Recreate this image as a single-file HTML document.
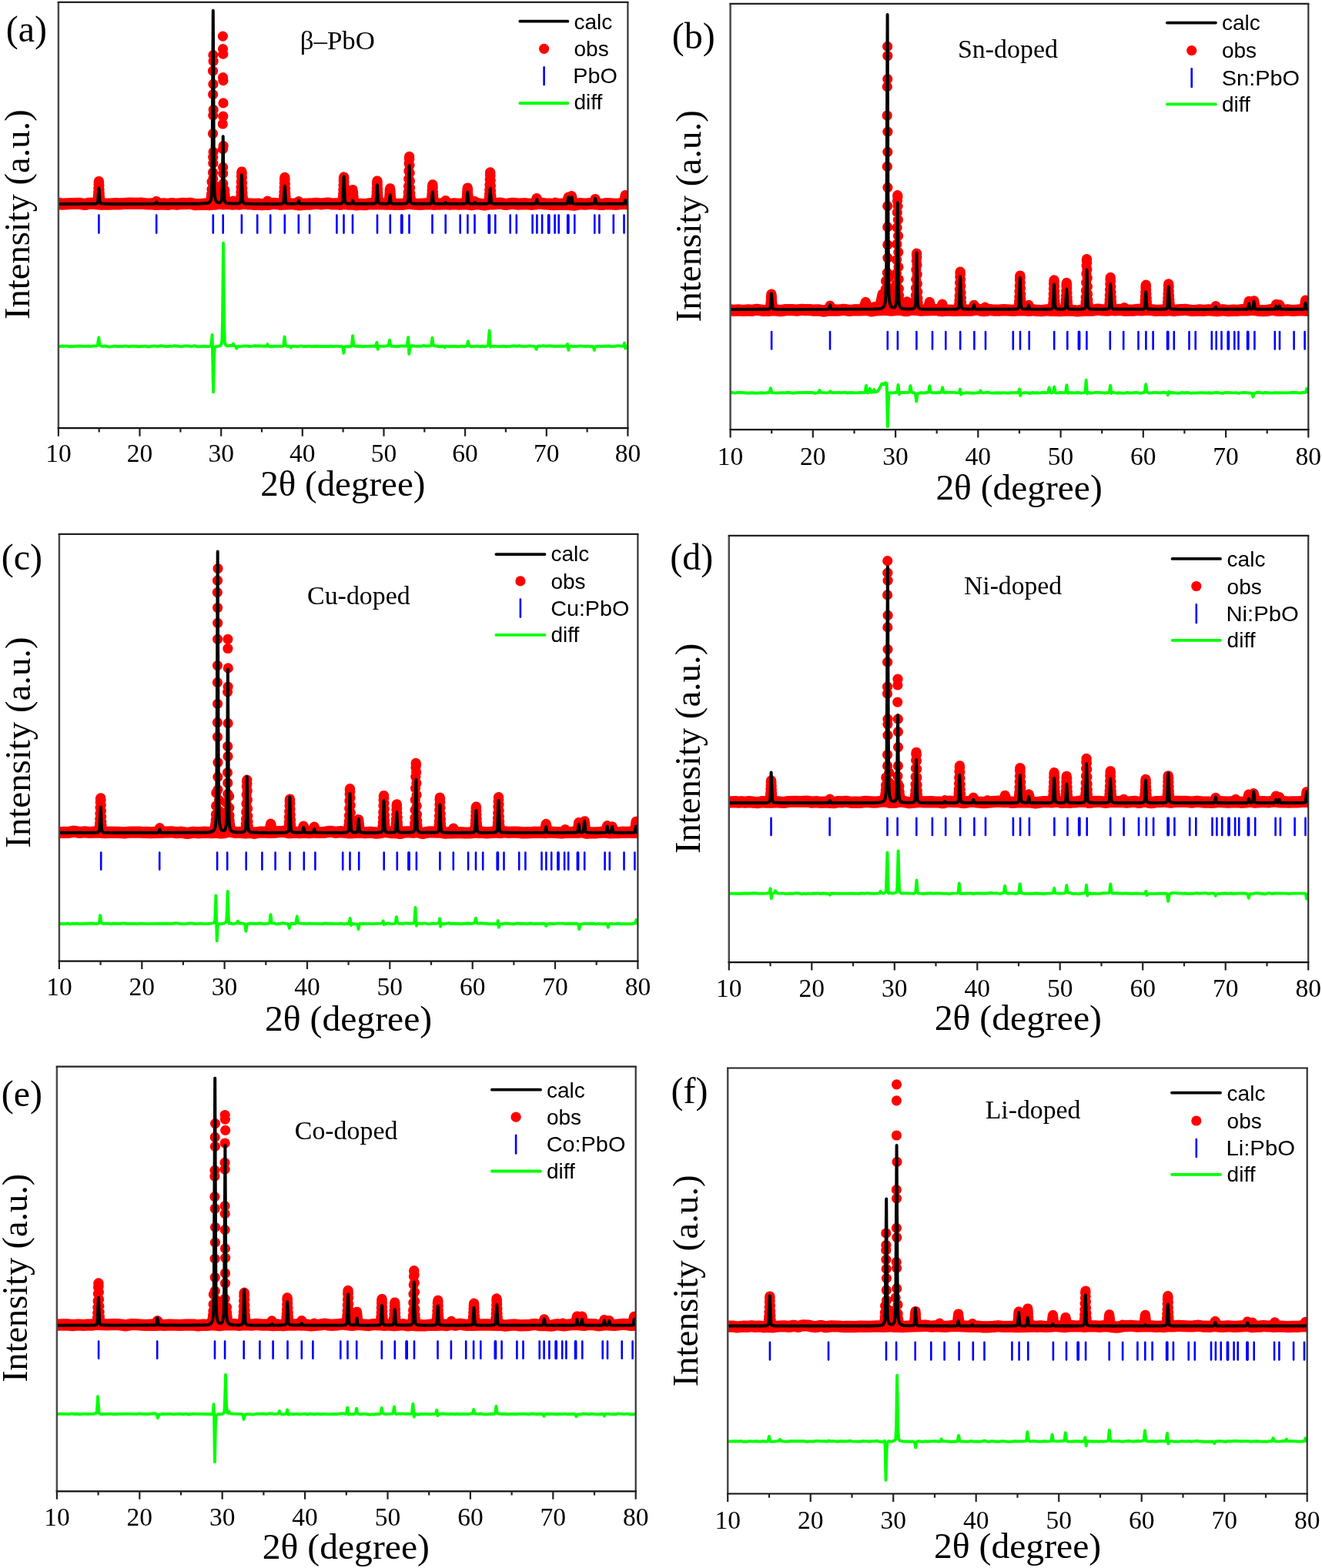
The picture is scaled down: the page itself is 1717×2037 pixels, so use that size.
<!DOCTYPE html>
<html><head><meta charset="utf-8"><title>XRD Rietveld refinement</title>
<style>html,body{margin:0;padding:0;background:#fff;}svg{display:block;}</style>
</head><body>
<svg xmlns="http://www.w3.org/2000/svg" width="1717" height="2037" viewBox="0 0 1717 2037">
<rect width="1717" height="2037" fill="#fff"/>
<g id="pa">
<clipPath id="ca"><rect x="75.9" y="2.8" width="739.5" height="553.4"/></clipPath>
<g fill="none" stroke="#f00" stroke-linecap="round" stroke-linejoin="round" clip-path="url(#ca)"><path d="M76 264.1L78.8 264.9L80.7 265.1L94.2 264.5L103.7 264.4L110.3 265.4L112 265.3L115.1 264.4L117.2 264.2L122.5 264.4L131.4 265.3L136.7 265L142.2 265.2L150.2 264.7L156.3 264.9L161 264.5L168.4 264.1L178.3 264.4L183.2 264.1L191.4 265L197.5 264.8L202.2 265.5L212.9 264.9L217.8 265.5L223.1 264.5L229.6 265.3L235.6 264.4L241.3 264.7L245.7 264.2L247.8 264.4L251.8 265.4L253.5 265.6L261.3 265.5L266.2 265.1L271.7 265.6L276.3 265.1L280.3 265.1L285.2 264.3L290.1 264.9L296.2 264.5L302.5 265.2L307.2 264.8L312 265.1L317.3 264.3L322.4 264.9L326.2 265L330.2 265.4L335.1 265.1L340.4 265.8L345.2 265.2L349.9 265.3L356 264.3L363.2 265.3L373.1 264.8L381.6 265L388.7 265.9L396.8 265.1L402.9 265.2L409.9 264.3L417.5 265L425.3 264L427 264.1L431 265L435.9 264.8L440.9 265.3L442.8 265.2L446.6 264.4L448.1 264.4L452.5 265.2L457.4 264.9L462.5 265.9L468.4 265.3L474.5 265.7L479.2 264.8L481.7 264.7L487.8 265L493.3 264.6L501.6 265.1L507.5 264.9L512.3 265.5L518.5 265.3L522.7 265.4L530.5 264.2L537.1 265L545.5 265.3L556.9 264.6L563 265.3L567.1 265L571.1 265.1L576.6 264.6L584.4 265.3L589.9 264.7L595.8 265.3L600.7 264.9L606.1 264.8L612.5 265.7L617.6 265L620.7 264.8L629.6 266L636.6 264.8L642.1 264.8L649.5 264.2L651.4 264.3L655.4 265.3L657.3 265.5L665.3 264.3L667.2 264.4L672.7 265.1L682.8 264.7L689 265.3L696.2 264.9L701.2 264.1L707.4 264.9L713.3 265.1L718.1 265.6L730.6 265.2L740.9 265.7L745.8 266.2L747.7 266L751.5 264.9L753.4 264.6L759.8 265.1L766.1 264.6L770.1 264.7L780.5 265.5L782.6 265.4L787.9 264.6L801.2 265.3L807.7 264.5L815.3 264.6" stroke-width="15.2"/><path d="M76 264.1L80.7 265.1L103.7 264.4L110.3 265.4L116.4 264.2L125.3 264.3L126.1 264L126.5 263.1L127.2 257.8M128.2 236.5L128.4 235.5L128.6 237.2M129.7 258.8L130.5 264.2L132.4 265.1L156.1 264.9L168.2 264.1L178.3 264.4L183.2 264.1L191 264.9L197.1 264.7L200.5 265.1L201.5 264.4L203.2 261.5L205.1 264.6L206.6 265.1L213.2 264.9L218 265.5L223.5 264.5L229.6 265.3L235.6 264.4L241.3 264.6L245.9 264.1L253.7 265.5L261.5 265.3L271.3 264.2L272.7 263.1L273.6 261.7L274.4 256.1M279.1 254L279.9 260.9L280.8 262.2L282.2 262.7L284.8 261.9L286.3 260.4L287.3 254M292.2 256L292.6 259.4L293.7 261.9L295.3 263.1L299.6 264.2L301.1 263.8L302.7 261L305.1 264.2L311 264.3L311.8 263.3L312.5 258.6M313.7 224.5L313.9 223L314.2 225.4M315.4 258.7L316.1 262.8L317.3 263.7L322.4 264.8L330 265.3L335.1 265.1L340.4 265.7L345.2 264.9L347.5 261.1L349.4 264.4L350.3 265L355.8 264.2L362.7 265.1L366.1 264.8L367.2 264.4L367.8 263.3L368.5 258.2M369.5 232.7L369.9 230.3M371.2 258.8L372 263.7L373.1 264.3L376.1 264.7L385.4 265.1L387.7 261.6L389.6 265L390.8 265.6L399.9 264.9L402 264L404.6 264.8L410.3 264.3L417.3 265L425.5 263.9L431 264.9L435.9 264.7L440.9 265.1L443 264.8L444.3 263.9L445.4 256.3M446.4 231.2L446.6 229.9L446.8 231.9M447.9 256.8L448.3 261.4L449.2 263.7L452.3 264.9L455.5 264.5L456.3 263.4L456.8 261.2L458 246.5L458.7 251.4M458.9 254.7L459.9 264.2L460.6 265.1L462.3 265.7L468.6 265.2L474.3 265.6L480 264.7L487 264.5L488 263.2L488.7 257.8M489.7 236.1L489.9 235L490.2 236.7M491.2 258.3L491.6 262.2L492.5 264L497.3 264.8L503.7 264.7L504.5 264.2L504.9 263L505.8 254.4M506.2 247.8L506.6 244.8L507.1 248.5M507.5 255.2L508.5 263.9L509.4 264.7L511.5 265.3L522.9 265.3L526.7 264.4L529 262.9L529.9 258.4M531.4 205.4L531.6 203.3M533 256L533.7 262.2L534.7 263.8L537.5 264.8L545.9 265.3L559.5 264L560.1 262.4L560.7 255.7M561.4 243.5L561.8 239.8L562 241.3M562.8 256.8L563.5 263.1L563.9 264.3L564.5 264.7L571.1 265L575.9 264.4L577 263.6L578.7 260.5L580.6 264.1L581.9 265L585.4 265.2L590.3 264.7L596.2 265.2L603.6 264.6L605.1 264.1L605.7 262.3L606.4 255.6M606.8 248.7L607.2 244.1L607.6 246.5M608.3 256.7L608.9 262.9L609.3 264.4L610.2 265.1L612.3 265.5L614.2 265.2L616.7 261.6L619.2 264.6L629.2 265.9L632.1 265.4L634.2 264.1L634.9 261.9L635.3 257M636.6 223.8L636.8 224.2M638.1 257.6L638.9 263.5L639.7 264.2L641.6 264.6L650.3 264.2L657.3 265.5L665.5 264.3L672.9 265.1L682.8 264.7L688.8 265.3L693.6 264.8L695.1 263.8L697 257.6L698.9 262.9L700 263.9L707.6 264.9L718.3 265.5L719.6 265.1L721.5 263.1L724 265.2L734.4 265.2L735.7 264.9L736.3 264L738.2 256L739.9 262.4L740.5 262.9L742.4 254.7L744.5 264.4L745.2 265.5L746 265.9L753 264.6L760.2 265L770.3 264.4L771.4 263.3L773.1 258.5L775.2 264.1L776.7 265.1L781.7 265.5L788.3 264.6L801.4 265.2L809.6 263.9L810.5 262.1L812.2 253.6L814.1 262.3L815.3 264.2" stroke-width="13.2"/><path d="M276.9 71.6h0M277.1 79.5h0M276.5 92.1h0M276.9 109.3h0M276.6 122.6h0M277.2 142.5h0M276.7 149.8h0M276.5 173.6h0M277.1 197.5h0M276.7 204.1h0M276.8 212.1h0M276.5 224h0M276.7 232h0M289.4 47.1h0M289.5 63.6h0M289.8 70.2h0M289.6 100.7h0M289.9 104.7h0M290 133.9h0M289.8 151.1h0M289.3 161h0M290.1 189.5h0M289.5 193.5h0M289.6 217.4h0M289.7 225.3h0M289.8 238.6h0M127.4 254.2h0M127.6 249.6h0M127.8 244.6h0M128 239.8h0M128.9 241h0M129.1 245.9h0M129.3 251h0M129.5 255.4h0M274.6 252.1h0M274.9 245.8h0M275.1 236.2h0M278.7 241.3h0M278.9 249h0M287.5 249.6h0M287.7 242.6h0M291.8 246.9h0M292 252.5h0M312.7 254.8h0M312.9 249.6h0M313.1 243.2h0M313.3 236h0M313.5 229.3h0M314.4 230.7h0M314.6 237.6h0M314.8 244.6h0M315 250.7h0M315.2 255.4h0M368.7 254.4h0M368.9 249.5h0M369.1 243.6h0M369.3 237.7h0M370.1 233.7h0M370.4 239.1h0M370.6 245.1h0M370.8 250.7h0M371 255.3h0M445.6 252h0M445.8 246.6h0M446 240.7h0M446.2 235.1h0M447 236.3h0M447.3 242h0M447.5 247.8h0M447.7 252.9h0M488.9 254h0M489.1 249.4h0M489.3 244.3h0M489.5 239.5h0M490.4 240.5h0M490.6 245.5h0M490.8 250.5h0M491 254.9h0M506 251h0M507.3 251.8h0M530.1 254.8h0M530.3 249.4h0M530.5 241.8h0M530.7 232.4h0M530.9 222h0M531.1 212.3h0M531.8 206.7h0M532 214.6h0M532.2 224.7h0M532.4 235h0M532.6 244.1h0M532.8 251.1h0M560.9 251.8h0M561.1 247.5h0M562.2 244.6h0M562.4 248.8h0M562.6 253.1h0M606.6 252.2h0M607.8 249.7h0M608 253.3h0M635.5 252.5h0M635.7 246.7h0M635.9 239.9h0M636.2 232.9h0M636.4 227h0M637 228.2h0M637.2 234.5h0M637.4 241.5h0M637.6 248.1h0M637.8 253.6h0" stroke-width="13.2"/></g>
<path d="M75.9 264.9L119.3 264.8L123.7 264.7L125.7 264.4L126.7 263.5L127.2 261.5L128.4 244.4L129.7 262.3L130.5 264L132.4 264.6L142.5 264.9L200.1 264.8L202 264.5L203.2 262.5L204.4 264.5L206 264.8L258.6 264.7L268.7 264.1L271 263.4L272.6 262.1L273.9 259.3L274.7 254.4L275.5 234.5L276.8 13.8L277.7 190.1L278.2 238.9L278.6 250.7L279.3 257.1L280.5 261.1L281.4 262.2L282.5 263L284.8 263.4L286.6 262.6L287.7 260.7L288.2 257.2L288.8 240.9L289.7 177.3L290.6 238.7L291.2 256.3L291.6 260L292.3 262.3L293.6 263.6L295.8 264.3L301.3 264.6L308.5 264.5L310.8 264L312 262.9L312.5 260.8L312.9 256L313.9 227.3L315.2 260.5L316.1 263.4L316.9 264L318.3 264.5L325.9 264.8L357 264.9L364.4 264.7L367.1 264.3L368.2 263.3L368.7 260.9L369.8 241.8L371 261.3L371.5 263.5L372.8 264.4L377.4 264.8L385.9 264.6L386.7 263.9L387.8 260.7L388.9 264.2L389.5 264.6L390.6 264.8L434.4 264.8L442.9 264.4L444 263.9L444.7 263.1L445.4 260L446.6 228.9L447.8 259.5L448.4 262.8L449.7 264.2L452.7 264.7L456.5 264.5L457.2 263.7L458.1 260.6L459.2 264.1L460.5 264.7L482.2 264.8L485.8 264.6L487.4 264.1L488.3 263L488.8 260.5L489.9 240.3L491 260.1L491.5 262.9L492.3 264.1L494.1 264.6L498.1 264.8L503 264.7L504.8 264.2L505.6 262.1L506.6 253.2L507.6 262.3L508 263.7L508.6 264.3L510.3 264.7L514.7 264.8L523.2 264.7L527 264.4L528.5 263.9L529.4 262.9L530.2 259.1L531.6 215.3L532.9 259.6L533.2 261.7L533.8 263.1L534.8 264L536.3 264.5L541.3 264.8L553.7 264.8L557.9 264.7L559.7 264.2L560.3 263.5L560.7 261.5L561.8 249.4L562.9 262.1L563.3 263.7L564.2 264.4L567.6 264.8L576.9 264.8L577.7 264.4L578.8 263L579.8 264.5L581 264.8L599 264.8L604.3 264.6L605.6 263.9L606.1 262.5L607.3 249.4L608.3 261.7L608.8 263.5L609.4 264.2L611.4 264.7L615.1 264.7L615.7 264.4L616.7 263L617.7 264.4L618.7 264.8L628.8 264.8L633.3 264.5L634.8 263.8L635.4 262L636.7 244.8L638 262.5L638.7 264L640.8 264.7L694.3 264.8L695.4 264.5L695.9 263.9L697.1 259.2L698.2 263.8L698.6 264.5L699.5 264.7L734.8 264.7L736.4 264.4L737.1 263.6L738.3 256.1L739.5 263.4L740.1 264.1L741 263.9L741.6 262.4L742.5 256.1L743.7 263.5L744.3 264.3L745.6 264.7L764 264.9L771 264.6L771.7 264.3L772.1 263.4L773.1 257.7L774.2 263.5L774.7 264.3L775.6 264.7L809.9 264.7L810.7 264.5L811.1 264L812.2 260L813.5 264.2L814 264.6L815.4 264.8" stroke="#000" stroke-width="4" fill="none" stroke-linejoin="round" clip-path="url(#ca)"/>
<path d="M128.4 279.5V302.6M203.2 279.5V302.6M276.8 279.5V302.6M289.7 279.5V302.6M313.9 279.5V302.6M334.2 279.5V302.6M351.2 279.5V302.6M369.8 279.5V302.6M387.8 279.5V302.6M402.1 279.5V302.6M437.4 279.5V302.6M446.5 279.5V302.6M458 279.5V302.6M490 279.5V302.6M506.8 279.5V302.6M531.5 279.5V302.6M561.5 279.5V302.6M578.7 279.5V302.6M597.7 279.5V302.6M607.4 279.5V302.6M616.5 279.5V302.6M643.3 279.5V302.6M662.7 279.5V302.6M670.8 279.5V302.6M691.6 279.5V302.6M697.4 279.5V302.6M704.1 279.5V302.6M720.6 279.5V302.6M725.7 279.5V302.6M746.3 279.5V302.6M772.3 279.5V302.6M778.4 279.5V302.6M796.8 279.5V302.6M810.5 279.5V302.6" stroke="#00f" stroke-width="2.6" stroke-linecap="round" fill="none"/>
<path d="M521.8 279.9V302.2M635.3 279.9V302.2M712.7 279.9V302.2M737.8 279.9V302.2" stroke="#00f" stroke-width="3.8" stroke-linecap="round" fill="none"/>
<path d="M75.9 450.2L80.3 449.5L83.5 449.7L85.7 449.4L89.5 450.2L103.6 449.5L107.3 449.9L115.1 449.6L118.4 450L122 449.4L125.3 449.3L126.4 448.9L126.9 447.9L128.2 438.5L129.6 448.2L130.3 449.1L132.9 450L136.1 449.5L142 450.6L149.6 449.6L152.3 450L159.7 450L162.8 449.4L166.5 450.2L170.7 449.7L176.5 449.8L179 450.2L188.7 449.7L192.6 450.5L199.8 449.4L203.7 450L209.4 449.3L216.4 450.2L220.1 449.6L223.8 449.9L226.5 449.2L236.3 450.2L240 449.5L244.6 449.4L248.2 450.2L252.5 449.2L256.7 450.4L265 449.7L270.2 450.3L273.6 449.7L274.2 449L275.6 435L277 509.4L278.1 462.9L278.7 452.4L279.2 451L280.1 450.2L285.2 449.4L286.6 448.7L287.8 446.3L288.3 442.7L289 419.5L290 315.8L291.1 419.9L291.9 444.9L293 448L294.1 449L295.2 449.5L299 448.8L301.7 449L303 446.6L304.3 449.3L306.1 450.1L307.3 452.7L308.3 450.5L309.3 450L313.1 450.1L315.9 449.6L320.9 449.5L324.9 450.1L329.7 449.3L345.8 449.8L346.5 449.3L347.4 447.3L348.7 449.8L351.8 450.3L355.9 449.8L367.4 449.9L368 449.4L368.4 448L369.6 437.4L370.6 447.1L371.2 449.1L371.9 449.5L376.7 450L377.9 451.6L379.1 450L379.8 449.6L386.8 450.2L391 449.4L394.5 450.2L401.3 449.6L404.4 450.2L408.3 449.7L423 450L431.1 449.7L433.9 450.1L436.7 449.6L440.6 450.1L443.7 449.8L444.6 450.2L445.1 451.3L446.3 458.8L447.3 451.8L448 450.3L449 450L454.4 450.2L455.9 449.9L456.5 449.3L457.1 447L458.1 436.2L459.2 447.1L460 449.7L467.4 449.8L471 450.3L478.8 449.6L482.8 449.9L485.7 449.5L487.7 449.7L488.4 448.8L489.4 445L490.7 453.7L491.6 450.7L492.2 449.9L498.6 449.9L504.4 449L505 447.7L506.1 441.7L507.2 448.5L508.2 449.8L517.7 450L521.2 449.4L527.9 449.6L528.6 449.1L529 447.6L530.1 438.2L531.3 459.9L532.4 451.2L533.1 449.5L536.2 449.3L540 449.9L544.8 449.6L547.4 449.8L550.3 449L553.5 449.7L559.3 449.3L560.3 447.7L561.4 438.9L562.5 447L563.2 449L571.2 450.2L576.1 449.7L577.7 451.5L578.8 449.9L579.6 449.6L582.7 450L590.5 449.8L593 450.2L597.5 450.1L600.1 449.6L602.6 450.1L606.1 449.5L606.9 448.4L607.9 443.3L609.2 448.9L609.7 449.5L611.4 450.2L619.5 449.6L623 450.2L626.4 449.7L629.8 450.2L631.3 450L633.6 448.9L634.2 447.5L635.6 429.4L636.5 447.7L637.1 450.6L638 449.9L641.1 449.6L647.3 450.1L653.9 449.8L657.5 450.2L663 449.9L666 449.3L671.7 449.8L674.4 449.2L677.1 449.8L681.7 450.1L687.1 449.4L695 450.1L696.6 453.7L697.7 450.3L699 449.5L702.6 449.7L705.6 449.2L709.5 449.8L714.1 449.3L721.2 450L724.7 449.6L733 449.8L735.9 449.4L737 446.9L738.4 454.9L739.3 450.9L740.1 449.9L742.4 449.7L748.4 450.2L752.9 449.4L759.9 450L763.6 449.7L766.3 450.2L769.9 449.9L770.7 450.9L771.8 454.8L772.8 451L773.6 450.2L777.4 449.6L780.5 450L791 449.5L793.6 450L798.3 450L801.8 449.1L809.1 449.9L810 449.1L811.1 445.5L812.3 452.7L813.6 450L815.4 449.8" stroke="#0f0" stroke-width="3.9" fill="none" stroke-linejoin="round" clip-path="url(#ca)"/>
<path d="M75.9 2.8V556.2" stroke="#4a4a4a" stroke-width="2.5"/>
<path d="M815.4 2.8V556.2" stroke="#333" stroke-width="2.2"/>
<path d="M74.7 2.8H816.5" stroke="#222" stroke-width="2.2"/>
<path d="M74.7 556.2H816.5" stroke="#111" stroke-width="2.2"/>
<path d="M75.9 556.2v10.5M128.7 556.2v5.2M181.5 556.2v10.5M234.4 556.2v5.2M287.2 556.2v10.5M340 556.2v5.2M392.8 556.2v10.5M445.6 556.2v5.2M498.5 556.2v10.5M551.3 556.2v5.2M604.1 556.2v10.5M656.9 556.2v5.2M709.8 556.2v10.5M762.6 556.2v5.2M815.4 556.2v10.5" stroke="#222" stroke-width="2.2" fill="none"/>
<text x="75.9" y="600.4" font-size="33.5" font-family='"Liberation Serif", "Times New Roman", serif' text-anchor="middle">10</text>
<text x="181.5" y="600.4" font-size="33.5" font-family='"Liberation Serif", "Times New Roman", serif' text-anchor="middle">20</text>
<text x="287.2" y="600.4" font-size="33.5" font-family='"Liberation Serif", "Times New Roman", serif' text-anchor="middle">30</text>
<text x="392.8" y="600.4" font-size="33.5" font-family='"Liberation Serif", "Times New Roman", serif' text-anchor="middle">40</text>
<text x="498.5" y="600.4" font-size="33.5" font-family='"Liberation Serif", "Times New Roman", serif' text-anchor="middle">50</text>
<text x="604.1" y="600.4" font-size="33.5" font-family='"Liberation Serif", "Times New Roman", serif' text-anchor="middle">60</text>
<text x="709.8" y="600.4" font-size="33.5" font-family='"Liberation Serif", "Times New Roman", serif' text-anchor="middle">70</text>
<text x="815.4" y="600.4" font-size="33.5" font-family='"Liberation Serif", "Times New Roman", serif' text-anchor="middle">80</text>
<text x="7.7" y="53.7" font-size="48" font-family='"Liberation Serif", "Times New Roman", serif'>(a)</text>
<text x="389.8" y="63.6" font-size="34.4" font-family='"Liberation Serif", "Times New Roman", serif' textLength="97.2" lengthAdjust="spacingAndGlyphs">β–PbO</text>
<text x="745.5" y="37.5" font-size="28" font-family='"Liberation Sans", Arial, sans-serif'>calc</text>
<text x="745.5" y="73.4" font-size="28" font-family='"Liberation Sans", Arial, sans-serif'>obs</text>
<text x="744.3" y="107.9" font-size="28" font-family='"Liberation Sans", Arial, sans-serif' textLength="57.5" lengthAdjust="spacingAndGlyphs">PbO</text>
<text x="745.5" y="142.3" font-size="28" font-family='"Liberation Sans", Arial, sans-serif'>diff</text>
<path d="M675.3 27.7H737.4" stroke="#000" stroke-width="3.8" stroke-linecap="round"/>
<circle cx="706.6" cy="63.3" r="6.6" fill="#f00"/>
<path d="M706.6 87.4V110.1" stroke="#00f" stroke-width="2.6" stroke-linecap="round"/>
<path d="M675.3 134H737.4" stroke="#0f0" stroke-width="3.8" stroke-linecap="round"/>
<g transform="translate(37.6 278.6) rotate(-90)"><text x="0.0" y="0.0" font-size="46.7" font-family='"Liberation Serif", "Times New Roman", serif' text-anchor="middle" textLength="272.6" lengthAdjust="spacingAndGlyphs">Intensity (a.u.)</text></g>
<text x="338.3" y="644.0" font-size="47" font-family='"Liberation Serif", "Times New Roman", serif' textLength="214.1" lengthAdjust="spacingAndGlyphs">2θ (degree)</text>
</g>
<g id="pb">
<clipPath id="cb"><rect x="948.6" y="4.9" width="750.7" height="553.2"/></clipPath>
<g fill="none" stroke="#f00" stroke-linecap="round" stroke-linejoin="round" clip-path="url(#cb)"><path d="M948.7 402.8L953.4 403.4L958.9 402.9L965.2 403.5L971.6 402.9L976.7 403.3L983 402.3L991.5 403.5L999.5 403.3L1005.5 402.6L1013.6 403.6L1020.9 402.6L1028.4 402.5L1034.7 403.1L1041.7 402.3L1046 402.7L1051.6 402.5L1056.3 403.2L1062.3 402.8L1069.4 404.1L1070.9 404L1075.6 402.9L1079.7 403.1L1083.6 402.9L1088.5 403.2L1095.6 402.3L1097.7 402.5L1103.3 403.5L1109.9 402.7L1117 402.9L1126.5 402.5L1128 402.7L1131.2 403.8L1132.7 403.9L1138 402.9L1146.8 402.3L1149.4 402.3L1157.6 403.1L1163.4 402.4L1167.2 402.2L1170 402.4L1174.3 403.5L1176.4 403.7L1178.8 403.4L1182.9 402.2L1184.8 401.9L1196.6 403.3L1202.4 402.8L1216.5 402.5L1221.3 403.5L1223.4 403.7L1227.9 403.2L1234.1 403.1L1240.6 403.5L1250.9 403L1262.2 403.1L1268.4 401.9L1270.2 402.1L1274.7 403.4L1277.7 403.7L1280.2 403.5L1285.8 402.5L1291.8 403.2L1297.8 403.1L1303.6 402.7L1316.7 403.4L1323.1 402.7L1331.7 402.9L1336.7 403.5L1342 402.7L1346.7 403.4L1354 403.6L1359.8 402.7L1365.8 403.5L1370.1 403.4L1376.8 403.7L1387.9 403L1399.5 404L1407.4 403.1L1419.9 403.1L1425.9 402L1430.2 402.6L1438.1 403.1L1443.5 402.4L1448.8 402.8L1454.2 402.4L1460.8 403.3L1466.2 403L1471.8 403.1L1477.6 402.4L1482.7 402.9L1487.7 402.5L1494.3 402.5L1502 403.4L1509.3 403L1514.2 403.1L1518.8 402.6L1524.5 403.6L1529.5 402.8L1539.3 402.3L1548.1 403.5L1551.6 403.5L1557.8 402.9L1564 403.3L1569.8 402.7L1581 403.7L1588 402.7L1595.8 403.6L1601.5 403.1L1607.6 403.3L1613.6 402.6L1620.4 402.9L1626.6 402.2L1634.1 403.3L1640.8 403.7L1646.2 403.3L1652.6 402.2L1660.3 403.4L1665.5 403.3L1672.3 402.7L1679.2 403.5L1690.3 402.7L1696.3 403.2L1699.1 403.2" stroke-width="15.2"/><path d="M948.7 402.8L953.4 403.4L958.9 402.9L965.2 403.4L971.6 402.9L976.5 403.3L983 402.2L991.3 403.5L998.6 403L999.7 402.5L1000.1 401.6L1001 393.5M1001.4 386.4L1001.8 382.1L1002.3 384.7M1002.9 394.7L1003.6 400.6L1004.2 402.1L1012.8 403.6L1021.1 402.5L1028.7 402.5L1034.7 403.1L1041.7 402.3L1046 402.7L1051.6 402.5L1056.3 403.2L1062.3 402.7L1070.3 404L1075.6 402.4L1078 397.1L1079.9 401.9L1081.2 402.8L1088.5 403.1L1096 402.3L1103.3 403.4L1109.9 402.6L1117.2 402.7L1120 402.3L1121.3 401.4L1124.3 392.4L1126.7 399.4L1128 401L1130.7 400.8L1135.9 398.5L1140.2 399.5L1141.3 399.3L1142.3 397.9L1143.2 395.5L1146.2 382L1146.6 381.6L1147 382L1149.2 388.1L1149.8 385.4M1155.2 392.2L1156.5 398.3L1158 400.1L1159.7 400.6L1161.6 399.9L1162.7 398.4L1163.6 391.7M1165.7 253.7L1165.9 256.2M1168.1 393.6L1168.5 397.4L1169.4 399.7L1171.7 401.6L1174.7 402.7L1175.6 402.4L1176.2 401L1178.2 391.9L1179.9 400.2L1180.9 401.9L1187.8 400.8L1188.4 399.2L1188.9 394.9M1190.4 331L1190.6 329.2M1192.3 396.7L1192.9 400.8L1194.5 402.3L1197.5 403L1204.1 402.3L1205 401.7L1205.6 400.2L1207.3 392.4L1209.3 400.6L1210.5 402.3L1216.8 402.4L1221.3 402.9L1222.1 401.6L1223.8 395.1L1225.8 401.8L1226.6 402.9L1240.6 403.3L1243.1 402.9L1244.6 402.1L1245.3 400L1245.7 395M1247 354.3L1247.2 353.1M1248.7 396.6L1249.6 401.7L1252.4 402.7L1262.2 402.7L1263.3 401.2L1265 396.3L1267.4 401.4L1274.9 403.4L1277.2 403.1L1279.4 399.2L1281.1 402.1L1282.2 402.8L1286 402.4L1291.8 403.2L1303.6 402.7L1316.1 403.3L1319.5 402.8L1322.3 401.7L1322.9 399.9L1323.4 395.4M1324.6 359.1L1324.9 358L1325.1 360.9M1326.4 397L1327 401.3L1328.3 402.3L1333.7 402.4L1336 396.3L1337.7 401.5L1338.8 402.8L1342.2 402.6L1346.7 403.3L1354 403.6L1359.6 402.6L1366 402.9L1366.9 401.8L1367.5 397.1M1368.8 364.9L1369 363.9L1369.3 366.5M1370.3 395.2L1371.2 402L1371.8 402.8L1373.8 403.3L1378.1 403.5L1382.6 402.6L1383.4 400.9L1383.8 397.4M1385.1 368.3L1385.3 367.4L1385.6 369.7M1386.6 395.6L1387.1 400.1L1387.9 402.2L1398.9 403.9L1403.1 403.5L1408.5 402.1L1409.4 400.4L1409.8 396.4M1411.3 338.1L1411.5 336.5M1413.2 397.8L1413.9 401.4L1414.5 402.1L1416 402.6L1420.1 402.9L1425.9 402L1437.2 402.8L1439 402.5L1439.8 401.9L1440.7 397.4M1442 363.4L1442.2 360.4L1442.4 361.3M1443.7 395.4L1444.5 401.1L1446.5 402.2L1457.6 402.6L1460.2 399.5L1461.9 402.4L1462.8 403L1471.4 403.1L1477.1 402.3L1482.9 402.7L1485.5 402.1L1486.4 400.6L1487 394.3M1488.1 371L1488.3 370.2L1488.5 372.3M1489.6 395.8L1490 399.9L1490.9 401.9L1502.2 403.4L1514.9 402.5L1515.8 401.2L1516.4 395.9M1517.5 371.2L1517.7 368.9L1517.9 369.6M1519 393.9L1520 401.8L1521.5 402.8L1523.9 403.4L1539.1 402.3L1548.6 403.5L1557.6 402.9L1563.4 403.3L1569.4 402.7L1575.8 403L1577.1 402.2L1579 397.5L1580.7 402.3L1582 403.5L1588.2 402.7L1595.1 403.6L1601.8 403.1L1606.7 403.3L1619.3 402.3L1620.2 400.6L1622.1 391.3L1624.1 400.4L1624.7 401.5L1625.8 401.4L1626.6 399.9L1628.6 390.8L1630.5 400.7L1631.4 402.3L1632.6 402.9L1641.9 403.7L1654.7 402L1655.6 401L1657.5 395.3L1659 400.6L1659.7 401.5L1661.8 395.9L1663.5 401.6L1664.6 403L1672.8 402.6L1679.8 403.5L1693.3 402.4L1694.2 400.3L1695.5 390.1L1697.2 401.9L1697.8 402.8L1699.1 403" stroke-width="13.2"/><path d="M1152.6 60.4h0M1152.8 72.5h0M1152.7 102.7h0M1152.3 112.7h0M1152.2 150h0M1152.9 171.1h0M1152.8 197.3h0M1152.3 216.4h0M1152.9 243.6h0M1152.7 267.7h0M1152.7 294.9h0M1152.8 318h0M1152.9 335.1h0M1152.4 354.3h0M1001.2 390h0M1002.5 387.9h0M1002.7 391.4h0M1150.1 381.8h0M1150.3 375.5h0M1150.5 365h0M1154.3 360.6h0M1154.6 374.4h0M1154.8 383.3h0M1155 388.8h0M1163.8 386.9h0M1164 379.6h0M1164.2 369.2h0M1164.4 355.1h0M1164.6 337.5h0M1164.9 317.1h0M1165.1 295.7h0M1165.3 275.9h0M1165.5 260.9h0M1166.1 267.6h0M1166.4 285.5h0M1166.6 306.4h0M1166.8 327.6h0M1167 346.8h0M1167.2 362.7h0M1167.4 374.9h0M1167.6 383.7h0M1167.9 389.7h0M1189.1 390.4h0M1189.3 383.7h0M1189.5 374.3h0M1189.7 362.8h0M1189.9 350.3h0M1190.2 338.8h0M1190.8 334.1h0M1191 344h0M1191.2 356.3h0M1191.4 368.6h0M1191.7 379.2h0M1191.9 387.4h0M1192.1 393.1h0M1245.9 390.4h0M1246.1 384h0M1246.4 376.1h0M1246.6 367.5h0M1246.8 359.6h0M1247.4 356.4h0M1247.6 363.1h0M1247.9 371.5h0M1248.1 379.9h0M1248.3 387.1h0M1248.5 392.7h0M1323.6 391.3h0M1323.8 385.6h0M1324 378.5h0M1324.2 370.9h0M1324.4 363.8h0M1325.3 367h0M1325.5 374.5h0M1325.7 382.1h0M1325.9 388.5h0M1326.1 393.5h0M1367.8 393.4h0M1368 388.3h0M1368.2 382.1h0M1368.4 375.3h0M1368.6 369.1h0M1369.5 371.8h0M1369.7 378.5h0M1369.9 385.1h0M1370.1 390.8h0M1384.1 394.1h0M1384.3 389.5h0M1384.5 383.8h0M1384.7 377.7h0M1384.9 372.1h0M1385.8 374.5h0M1386 380.5h0M1386.2 386.5h0M1386.4 391.6h0M1410 392.3h0M1410.2 386.2h0M1410.4 377.6h0M1410.7 367.1h0M1410.9 355.7h0M1411.1 345.2h0M1411.7 340.9h0M1411.9 349.9h0M1412.2 361.1h0M1412.4 372.3h0M1412.6 381.9h0M1412.8 389.4h0M1413 394.5h0M1440.9 394.2h0M1441.1 389.5h0M1441.3 383.4h0M1441.5 376.3h0M1441.8 369.2h0M1442.6 365.7h0M1442.8 372.2h0M1443 379.4h0M1443.3 386.1h0M1443.5 391.5h0M1487.2 390.2h0M1487.4 385.1h0M1487.7 379.5h0M1487.9 374.4h0M1488.7 376.7h0M1488.9 382.1h0M1489.2 387.5h0M1489.4 392.2h0M1516.6 392.2h0M1516.8 387.3h0M1517 381.6h0M1517.3 375.9h0M1518.1 373.1h0M1518.3 378.4h0M1518.5 384.2h0M1518.8 389.5h0" stroke-width="13.2"/></g>
<path d="M948.6 401.9L992.7 401.8L997.1 401.7L999.2 401.3L1000.2 400.5L1000.7 398.5L1001.9 381.2L1003.2 399.3L1004 401L1006.1 401.7L1019.1 401.9L1075 401.8L1076.3 401.5L1076.8 401L1078.1 396.3L1079.2 401L1079.7 401.5L1080.9 401.7L1134.3 401.6L1140.6 401.3L1144.3 400.7L1146.7 399.5L1148.2 397.7L1149.6 393.4L1150.4 385.9L1151.2 355.5L1152.6 19L1153.5 287.9L1154 362.2L1154.4 380.3L1155.1 390L1156.3 396L1157.2 397.8L1158.3 399L1159.5 399.5L1160.8 399.6L1161.8 399.2L1162.7 398.4L1163.8 395.3L1164.3 389.8L1164.9 363.9L1165.9 263.3L1166.8 360.4L1167.3 388.3L1167.8 394.2L1168.5 397.7L1169.8 399.8L1172 400.9L1178 401.5L1185.1 401.2L1187.4 400.3L1188.6 398L1189.1 394.2L1189.5 385.2L1190.5 328.2L1191.4 379.9L1192 394.8L1192.4 397.9L1193.2 399.8L1194.4 400.8L1196.5 401.4L1206.1 401.8L1236.7 401.8L1242.2 401.5L1244.5 400.7L1245.5 398.9L1246 394.6L1247.2 359.5L1248.5 396.3L1249.2 399.9L1250 400.8L1251.2 401.3L1257 401.8L1263.2 401.5L1264 400.4L1265 395.9L1266.2 400.9L1266.7 401.5L1267.9 401.7L1314 401.8L1319.4 401.6L1321.8 401L1322.5 400.4L1323 399.4L1323.6 395.5L1324.8 361L1326 395.5L1326.6 399.5L1327.2 400.5L1328 401.1L1331 401.6L1334.5 401.4L1335.1 400.4L1336 396.5L1337.2 400.9L1337.7 401.4L1338.5 401.7L1361.3 401.8L1364.8 401.5L1366.5 400.8L1367.4 399.3L1367.9 395.8L1369 369.4L1370.1 395.8L1370.6 399.3L1371.4 400.8L1373.8 401.6L1379.3 401.7L1382.2 401.3L1383.5 400.3L1384 398.6L1384.3 395.3L1385.3 375.4L1386.3 395.9L1386.7 399.1L1387.3 400.6L1388.8 401.4L1391.8 401.7L1402.3 401.7L1407 401.3L1408.4 400.8L1409.3 399.8L1409.8 398.3L1410.1 395.7L1411.5 350.5L1412.8 396.2L1413.2 398.5L1413.8 400L1414.8 400.9L1416.3 401.4L1422.2 401.8L1435.4 401.7L1438.6 401.4L1440.1 400.5L1440.8 398.9L1441.2 394.9L1442.3 369.3L1443.6 398.1L1443.9 399.7L1444.5 400.6L1445.4 401.2L1446.9 401.6L1478.7 401.8L1483.7 401.7L1485.8 401.2L1486.7 400.1L1487.1 397.6L1488.2 379.2L1489.3 397.2L1489.7 399.9L1490.4 400.9L1492.3 401.6L1497 401.8L1510.6 401.8L1514.7 401.2L1516 400.1L1516.5 397.5L1517.8 372.2L1519 398.2L1519.8 400.6L1520.6 401.2L1521.9 401.5L1531.4 401.9L1576.1 401.8L1577.8 401.4L1579 398.5L1580.1 401.3L1581.5 401.8L1618.6 401.8L1620.2 401.5L1620.8 400.8L1622.1 394.5L1623.3 400.8L1624 401.4L1625.6 401.5L1626.8 401.2L1627.3 400.2L1628.5 391.5L1629.7 400.2L1630.3 401.2L1631.6 401.7L1655.3 401.7L1656.4 401L1657.5 397.6L1658.6 401L1659.1 401.5L1659.9 401.5L1660.7 400.9L1661.8 397.6L1662.9 401.1L1664.1 401.7L1692.6 401.7L1693.8 401.4L1694.4 400.6L1695.6 393.8L1696.8 400.8L1697.5 401.5L1699.3 401.8" stroke="#000" stroke-width="4" fill="none" stroke-linejoin="round" clip-path="url(#cb)"/>
<path d="M1002.1 431V453.4M1078 431V453.4M1152.8 431V453.4M1165.9 431V453.4M1190.4 431V453.4M1211 431V453.4M1228.3 431V453.4M1247.2 431V453.4M1265.4 431V453.4M1280 431V453.4M1315.8 431V453.4M1325 431V453.4M1336.7 431V453.4M1369.2 431V453.4M1386.3 431V453.4M1411.4 431V453.4M1441.8 431V453.4M1459.2 431V453.4M1478.5 431V453.4M1488.4 431V453.4M1497.6 431V453.4M1524.8 431V453.4M1544.5 431V453.4M1552.7 431V453.4M1573.8 431V453.4M1579.7 431V453.4M1586.5 431V453.4M1603.3 431V453.4M1608.5 431V453.4M1629.4 431V453.4M1655.8 431V453.4M1662 431V453.4M1680.6 431V453.4M1694.6 431V453.4" stroke="#00f" stroke-width="2.6" stroke-linecap="round" fill="none"/>
<path d="M1401.5 431.4V453M1516.7 431.4V453M1595.3 431.4V453M1620.7 431.4V453" stroke="#00f" stroke-width="3.8" stroke-linecap="round" fill="none"/>
<path d="M948.6 510.4L950.7 509.8L954.8 510.6L958.4 509.9L963.4 510L972.4 510.8L976.2 510.2L982.3 510.7L989 510.3L993.2 510.6L999.4 509.7L1000.9 504.3L1002.3 509.8L1003 510.2L1004.8 510.4L1011.4 510.5L1015.7 510.1L1019.3 510.4L1022.3 509.8L1030.6 510.8L1033.6 510.2L1046.3 509.9L1054.7 510L1059 510.8L1062.9 509.9L1064.4 507L1065.5 509.3L1066.1 509.9L1073.4 510.4L1077 509.9L1078.4 508.2L1079.5 509.9L1080.5 510.2L1089.2 509.9L1092.8 510.4L1096.5 509.6L1100.5 510.5L1104.7 510L1112.6 510.4L1117.7 509.9L1122.5 510.1L1123.3 509.9L1123.7 508.9L1124.9 500.9L1126.1 509.2L1126.5 510.2L1127.1 510.4L1128.6 509.5L1129.8 505L1130.9 508.9L1131.6 509.7L1133.8 509.6L1135.2 506L1136.6 509.4L1137.5 509.5L1139.1 509L1141.1 506.8L1145.2 498.8L1146.2 498.4L1148.3 499.5L1150 497.2L1150.9 498.2L1151.4 497.8L1151.7 500.5L1152.9 554.1L1153.9 520.3L1154.5 511.8L1155 510.7L1156.1 510.3L1160.9 510.4L1164.9 509.5L1165.6 507.6L1166.5 500L1167.8 512.3L1169.1 510L1180.7 509.7L1181.3 508.2L1182.4 501.2L1183.9 509.3L1184.5 509.8L1188.1 510.5L1188.9 511.5L1190.3 521.5L1191.4 513L1192 511.1L1196.3 510.2L1200.2 510.5L1205.6 509.7L1206.3 508.1L1207.4 501.2L1208.8 509.3L1209.4 509.9L1211.5 510.3L1216.5 510.3L1222.4 509.8L1223 508.7L1224.1 503.3L1225.3 509.1L1226.3 510L1230 509.7L1239.1 509.9L1242.8 510.4L1245.1 510.2L1246 509.3L1246.9 505.6L1248.1 512.6L1249.5 510.7L1251.6 510.8L1254.8 510.2L1265.7 510.7L1268.9 510.1L1271.9 510.2L1272.6 509.6L1273.5 507.5L1274.8 509.9L1277.2 510.4L1283.1 509.6L1287.2 510.6L1296.1 510.2L1300.9 510.5L1303.4 510.1L1309.4 510.7L1312.2 510.3L1318.8 510.2L1322.8 509.7L1324.1 505.5L1325.2 514L1326.5 510.9L1331 510.1L1334.1 510.1L1337.4 511L1341.1 510L1344.3 510.5L1347.5 510.2L1350.2 510.6L1354.1 509.9L1357.4 510.2L1360.6 510.1L1361.5 508.8L1362.6 503.4L1364.1 509.9L1365.2 510.3L1367.2 510.2L1368.1 509L1369.3 502.4L1370.4 508.7L1371.2 510.3L1373.2 510.6L1376.9 509.9L1383.1 510.4L1383.9 509.9L1384.3 508.6L1385.4 500.3L1386.4 509.5L1386.8 510.7L1388.1 510L1395.9 510.4L1400.5 510L1404.3 510.7L1408 510.1L1409 509.6L1409.5 507.9L1410.7 493.7L1411.7 509.4L1412.1 511.4L1412.9 510.3L1413.6 510L1418 510.7L1422.7 509.9L1426.6 509.9L1434.8 510.5L1439.9 510L1440.5 509.6L1441 508.6L1442.1 500.7L1443.3 511L1444.3 509.9L1445 509.7L1450 510.7L1453.1 510.3L1459.7 510.9L1464.2 510L1468.6 510.6L1475.7 509.9L1480.2 510.7L1482.9 510.5L1486.1 509.9L1486.7 509.4L1488.2 499.3L1489.4 508.4L1490.4 510.1L1492.8 510.5L1500.5 509.9L1506.4 510.5L1511.7 509.7L1515.4 510.5L1516.8 513.3L1518 509L1519.1 510.2L1521.4 510L1531.5 510.8L1535.3 510L1538.4 510.5L1542.2 509.9L1546.9 510.9L1549.5 510.4L1555.5 510.5L1558.1 510.1L1567.6 510.5L1570.5 510.2L1573.9 510.7L1579.4 509.8L1587.3 510.9L1592.3 509.9L1602.4 510.4L1605.4 510.2L1608.6 510.9L1614.9 509.9L1625.7 510.8L1626.4 511.7L1627.4 515.6L1628.9 511L1633.2 509.7L1640.4 510.5L1643.6 510L1652.1 510.6L1655.2 510.1L1672.6 510.4L1679.9 509.8L1687.2 510.5L1695.4 509.8L1696.1 508.9L1697.2 505.1L1698.3 509.3L1699.3 510.1" stroke="#0f0" stroke-width="3.9" fill="none" stroke-linejoin="round" clip-path="url(#cb)"/>
<path d="M948.6 4.9V558.1" stroke="#4a4a4a" stroke-width="2.5"/>
<path d="M1699.3 4.9V558.1" stroke="#333" stroke-width="2.2"/>
<path d="M947.4 4.9H1700.4" stroke="#222" stroke-width="2.2"/>
<path d="M947.4 558.1H1700.4" stroke="#111" stroke-width="2.2"/>
<path d="M948.6 558.1v10.5M1002.2 558.1v5.2M1055.8 558.1v10.5M1109.5 558.1v5.2M1163.1 558.1v10.5M1216.7 558.1v5.2M1270.3 558.1v10.5M1324 558.1v5.2M1377.6 558.1v10.5M1431.2 558.1v5.2M1484.8 558.1v10.5M1538.4 558.1v5.2M1592.1 558.1v10.5M1645.7 558.1v5.2M1699.3 558.1v10.5" stroke="#222" stroke-width="2.2" fill="none"/>
<text x="948.6" y="603.5" font-size="33.5" font-family='"Liberation Serif", "Times New Roman", serif' text-anchor="middle">10</text>
<text x="1055.8" y="603.5" font-size="33.5" font-family='"Liberation Serif", "Times New Roman", serif' text-anchor="middle">20</text>
<text x="1163.1" y="603.5" font-size="33.5" font-family='"Liberation Serif", "Times New Roman", serif' text-anchor="middle">30</text>
<text x="1270.3" y="603.5" font-size="33.5" font-family='"Liberation Serif", "Times New Roman", serif' text-anchor="middle">40</text>
<text x="1377.6" y="603.5" font-size="33.5" font-family='"Liberation Serif", "Times New Roman", serif' text-anchor="middle">50</text>
<text x="1484.8" y="603.5" font-size="33.5" font-family='"Liberation Serif", "Times New Roman", serif' text-anchor="middle">60</text>
<text x="1592.1" y="603.5" font-size="33.5" font-family='"Liberation Serif", "Times New Roman", serif' text-anchor="middle">70</text>
<text x="1699.3" y="603.5" font-size="33.5" font-family='"Liberation Serif", "Times New Roman", serif' text-anchor="middle">80</text>
<text x="872.7" y="62.8" font-size="48" font-family='"Liberation Serif", "Times New Roman", serif'>(b)</text>
<text x="1244.0" y="75.2" font-size="34.4" font-family='"Liberation Serif", "Times New Roman", serif' textLength="129.9" lengthAdjust="spacingAndGlyphs">Sn-doped</text>
<text x="1586.9" y="39.4" font-size="28" font-family='"Liberation Sans", Arial, sans-serif'>calc</text>
<text x="1586.9" y="75.4" font-size="28" font-family='"Liberation Sans", Arial, sans-serif'>obs</text>
<text x="1586.8" y="110.9" font-size="28" font-family='"Liberation Sans", Arial, sans-serif' textLength="101.3" lengthAdjust="spacingAndGlyphs">Sn:PbO</text>
<text x="1586.9" y="144.5" font-size="28" font-family='"Liberation Sans", Arial, sans-serif'>diff</text>
<path d="M1515.9 29.6H1578.9" stroke="#000" stroke-width="3.8" stroke-linecap="round"/>
<circle cx="1547.7" cy="65.7" r="6.6" fill="#f00"/>
<path d="M1547.7 89.3V113" stroke="#00f" stroke-width="2.6" stroke-linecap="round"/>
<path d="M1515.9 135.4H1578.9" stroke="#0f0" stroke-width="3.8" stroke-linecap="round"/>
<g transform="translate(910.1 280.8) rotate(-90)"><text x="0.0" y="0.0" font-size="46.7" font-family='"Liberation Serif", "Times New Roman", serif' text-anchor="middle" textLength="275.2" lengthAdjust="spacingAndGlyphs">Intensity (a.u.)</text></g>
<text x="1215.4" y="649.1" font-size="47" font-family='"Liberation Serif", "Times New Roman", serif' textLength="216.3" lengthAdjust="spacingAndGlyphs">2θ (degree)</text>
</g>
<g id="pc">
<clipPath id="cc"><rect x="76.9" y="693.8" width="751.5" height="554.8"/></clipPath>
<g fill="none" stroke="#f00" stroke-linecap="round" stroke-linejoin="round" clip-path="url(#cc)"><path d="M77.1 1081.5L83.3 1081.3L88.7 1081.5L96.4 1080.1L103.5 1081.5L110.1 1080.8L116.4 1081.5L122.4 1081.1L130.3 1081.2L136.1 1081.7L143.6 1081.2L153.9 1081.4L161.5 1081.9L169.2 1081L175 1081.2L181 1081L185.7 1081.5L190 1081.3L195.4 1081.7L222.9 1080.8L229.1 1081.6L236 1081.2L243.3 1082.4L250.6 1081.2L257.4 1081.8L264.9 1081.2L275.3 1081.7L281.3 1081.2L286.2 1081.9L288.1 1082L290.9 1081.7L296.1 1080.4L298.7 1080.2L306.2 1081.5L310.9 1081.3L317.8 1081.9L324.8 1081.4L330.2 1082.3L336.7 1081.2L342.5 1081L347.8 1081.3L355.3 1081.4L361.6 1080.6L367.6 1080.3L369.9 1080.5L374.4 1081.6L376.8 1081.8L383.7 1081.2L388.6 1081.6L395.3 1081.1L401.7 1081.6L407.3 1080.9L412.5 1081.5L420.2 1081.5L426.6 1080.4L428.8 1080.3L430.7 1080.4L435.4 1081.4L442.7 1080.6L452.6 1081.8L467.2 1081.1L474.3 1081.8L481.2 1081.2L488.9 1082.1L491.7 1081.9L498.8 1080.7L500.9 1080.6L507.8 1081.6L514.7 1081.6L519.6 1082.5L521.1 1082.3L524.3 1081.2L526 1080.8L532.5 1080.9L536.8 1081.3L541.7 1080.7L543.2 1080.9L546.9 1082.1L549 1082.4L550.7 1082.2L555.5 1081.1L558.9 1080.8L571.1 1081.1L578.4 1082.2L582.7 1081.8L587.9 1081.9L596.2 1081.5L604 1082L609.1 1082L611.9 1081.7L616.6 1080.9L621.6 1081.5L627.4 1081.4L632.3 1081.9L644.8 1080.9L650.6 1081.6L655.7 1080.8L660.2 1081.4L665.4 1081.1L671.6 1081.1L679.1 1081.9L688.6 1081.7L693.3 1081.2L697.6 1081.3L701.9 1081.1L707.9 1081.6L713.9 1081L728.9 1081.9L731.7 1081.8L736 1081.2L740.8 1081.5L745.3 1081.2L749.8 1081.5L755.1 1080.7L757.3 1081L760.9 1082.1L763.1 1082.3L768.4 1081.8L775.1 1081.8L784.1 1081L791.4 1081.8L798.9 1081.3L803.9 1081.6L808.2 1081.2L812.7 1081.4L817.4 1081.1L822.8 1081.4L828.4 1081.3" stroke-width="15.2"/><path d="M77.1 1081.5L88.7 1081.5L96.4 1080L103.3 1081.4L109.5 1080.8L116.4 1081.5L126.5 1080.8L128.4 1079.8L129.2 1073.8M130.5 1037.7L130.7 1036.8L131 1040M132.3 1075.7L133.1 1080.3L134.2 1081.1L136.1 1081.5L143.6 1081.1L161.7 1081.9L169.2 1080.9L190 1081.2L194.9 1081.7L203.5 1081.4L205.3 1080.6L207.4 1075.5L209.1 1080L210.4 1081L223.1 1080.7L229.5 1081.6L235.3 1081.1L243.7 1082.3L250.1 1081.1L257.6 1081.6L264.9 1081L271.4 1081L275.3 1080.3L277.2 1079.1L278.7 1076.8L279.5 1073.6L280 1069.3M285.3 1071.1L286 1075.5L286.8 1077.6L288.3 1079L290.1 1079.1L291.6 1078L292.6 1075.9L293.5 1068.7M298.4 1069.9L299.1 1074.9L300.2 1077.3L302.5 1079.5L305.7 1080.8L315.2 1081.2L317.3 1080.9L318.4 1079.7L319.1 1074.6M320.6 1014.6L320.8 1013.2M322.5 1076L322.9 1079L323.6 1080.2L330.4 1082.1L336.4 1081.1L348.9 1080.8L350 1078.6L351.7 1070.1L353.6 1079.1L354.3 1080.6L355.1 1081.1L367.6 1080.2L373.4 1080.7L374.2 1080L374.9 1075.9M376.2 1041L376.4 1038.2L376.6 1039.4M377.9 1074.7L378.3 1079L379.2 1080.8L388.2 1081.4L390.8 1081.2L391.8 1080.5L394.2 1073L396.6 1080.3L397.6 1081L400.9 1081.4L403.6 1081.2L405.6 1080.5L408.2 1074.1L410.3 1080.4L411.2 1081.1L413.1 1081.4L421 1081.4L428.6 1080.2L435.4 1081.4L442.1 1080.5L450.7 1081L452.2 1080L452.8 1075.8M454.3 1025.7L454.5 1024.6M456 1074.3L456.5 1078.6L457.1 1080.2L461 1081L463.6 1080.6L464.4 1077.7L465.7 1064.7L467.2 1078.4L467.8 1080.4L469.1 1081L473.4 1081.7L481.4 1081.2L488.5 1082L494 1081.2L495.5 1080.6L496.2 1079.8L497.1 1073.1M498.3 1034.4L498.6 1033.5M500.1 1074.5L500.5 1078.1L501.3 1079.7L505.9 1081.2L509.9 1081.4L512.3 1081L513.2 1080.2L514 1073.8M515.1 1047.3L515.3 1044.9L515.5 1046M516.8 1076.1L517.7 1081.1L518.7 1082L520.5 1082.2L525.8 1080.7L536.6 1080.3L537.8 1078.9L538.5 1073.8M540.2 991.3L540.4 993.6M542.1 1075.1L542.6 1078.1L543.4 1079.7L546.2 1081.5L549.2 1082.2L556.7 1080.8L568.1 1080.5L569.2 1079.5L569.8 1075.2M571.1 1039L571.3 1036.1L571.6 1037.3M572.8 1074.1L573.3 1078.6L573.9 1080.5L575.9 1081.5L578.9 1082L586.4 1081.5L587.2 1080.5L588.9 1076L590.9 1080.6L592 1081.4L604.2 1082L612.1 1081.6L615.1 1080.6L616.2 1079.7L617.1 1074M618.1 1050.2L618.4 1048.1L618.6 1049M619.7 1073L620.3 1079.3L621.2 1080.9L632.3 1081.9L641.6 1081L644.6 1080.2L645.4 1078.9L646.1 1073.3M647.4 1036.4L647.6 1035.5M649.1 1075.8L649.7 1080L651.2 1081.1L655.5 1080.7L660.2 1081.3L671.4 1081.1L679.3 1081.9L693.7 1081.2L705.8 1081.2L706.6 1080.9L707.3 1079.8L709.2 1070.4L711.1 1079.1L712.4 1080.7L730.7 1081.7L731.9 1081.1L733.9 1077.6L735.8 1080.5L736.9 1081.1L748.7 1081.3L749.6 1080.9L750.2 1079.3L751.7 1068.5L753.4 1079.8L754.5 1080.4L756.6 1080.4L757.3 1079.9L759.2 1066.8L760.7 1080.1L761.4 1081.6L762.2 1082L774.9 1081.7L785.8 1080.7L786.9 1079.2L788.6 1072.7L790.6 1080L791.6 1081.3L792.5 1081.2L793.1 1080.3L795.1 1073.8L797 1079.9L798.1 1081L803.2 1081.5L808.2 1081.1L822.3 1081.3L823.6 1081L824.3 1080L826 1067.3L827.3 1078.5L828.4 1081" stroke-width="13.2"/><path d="M283 738.7h0M282.5 754.1h0M282.3 769.6h0M282.6 789.5h0M282.7 809.3h0M282.6 830.3h0M282.5 864.6h0M282.4 886.7h0M282.6 914.3h0M282.4 938.6h0M282.5 957.3h0M283 990.5h0M282.9 1009.3h0M283 1025.8h0M295.9 830.3h0M295.9 842.5h0M296.3 867.9h0M296.1 892.2h0M295.6 898.8h0M296.1 939.7h0M295.7 969.5h0M296 982.7h0M295.5 1003.7h0M295.8 1017h0M295.8 1031.3h0M129.5 1069.6h0M129.7 1063.8h0M129.9 1056.8h0M130.1 1049.2h0M130.3 1042.3h0M131.2 1046.1h0M131.4 1053.6h0M131.6 1061.1h0M131.8 1067.5h0M132 1072.3h0M280.2 1065h0M280.4 1058h0M280.6 1046.9h0M280.8 1030h0M284.5 1039.5h0M284.7 1053.3h0M284.9 1062.2h0M285.1 1067.7h0M293.7 1063.5h0M293.9 1055.3h0M294.1 1042.9h0M297.6 1034.4h0M297.8 1049.3h0M298 1059.4h0M298.2 1065.9h0M319.3 1070.3h0M319.5 1063.8h0M319.7 1054.9h0M319.9 1044h0M320.1 1032.3h0M320.3 1021.7h0M321 1018h0M321.2 1027.4h0M321.4 1039h0M321.6 1050.4h0M321.8 1060.1h0M322.1 1067.6h0M322.3 1072.8h0M375.1 1072.5h0M375.3 1067.7h0M375.5 1061.4h0M375.7 1054.1h0M376 1046.8h0M376.8 1044.1h0M377 1051h0M377.2 1058.4h0M377.5 1065.2h0M377.7 1070.8h0M453 1072.2h0M453.2 1066.8h0M453.5 1059.4h0M453.7 1050.3h0M453.9 1040.5h0M454.1 1031.6h0M454.8 1028.6h0M455 1036.5h0M455.2 1046.1h0M455.4 1055.6h0M455.6 1063.7h0M455.8 1070h0M497.3 1068.6h0M497.5 1062.4h0M497.7 1054.9h0M497.9 1046.7h0M498.1 1039.4h0M498.8 1036.8h0M499 1043.3h0M499.2 1051.2h0M499.4 1059.1h0M499.6 1065.8h0M499.8 1071h0M514.2 1069.7h0M514.4 1064.4h0M514.7 1058.3h0M514.9 1052.1h0M515.7 1050h0M515.9 1055.8h0M516.2 1062.1h0M516.4 1068h0M516.6 1072.7h0M538.7 1069.3h0M538.9 1062.3h0M539.1 1052.2h0M539.3 1039.2h0M539.6 1024.1h0M539.8 1009.1h0M540 997h0M540.6 1003.3h0M540.9 1017.4h0M541.1 1032.7h0M541.3 1046.8h0M541.5 1058.1h0M541.7 1066.3h0M541.9 1071.8h0M570.1 1071.6h0M570.3 1066.6h0M570.5 1060.1h0M570.7 1052.5h0M570.9 1045h0M571.8 1042.2h0M572 1049.4h0M572.2 1057.1h0M572.4 1064.2h0M572.6 1069.9h0M617.3 1070.3h0M617.5 1065.6h0M617.7 1060.1h0M617.9 1054.6h0M618.8 1052.7h0M619 1057.9h0M619.2 1063.6h0M619.4 1068.8h0M646.3 1069h0M646.5 1063.1h0M646.7 1055.9h0M646.9 1048.1h0M647.1 1041h0M647.8 1038.8h0M648 1045.2h0M648.2 1052.9h0M648.4 1060.6h0M648.6 1067.2h0M648.9 1072.3h0" stroke-width="13.2"/></g>
<path d="M76.9 1081.8L121.4 1081.7L125.9 1081.5L128 1080.9L129 1079.6L129.5 1076.4L130.7 1048.8L132 1077.6L132.8 1080.3L133.5 1081L134.7 1081.4L145.2 1081.8L204.2 1081.7L205.5 1081.5L206.1 1081.1L207.4 1077.5L208.5 1081.1L209 1081.5L210.2 1081.7L263.8 1081.5L270.4 1081.2L274.3 1080.6L276.8 1079.6L278.3 1077.7L279.7 1073.7L280.5 1066.7L281.4 1039.2L282.7 716.5L283.6 977.7L284.1 1045.2L284.6 1061.5L285.3 1070.5L286.4 1076L287.2 1077.6L288.3 1078.6L289.6 1079.1L290.9 1078.9L292 1078.2L292.8 1076.7L293.8 1072L294.4 1063.6L295 1023.8L295.9 869.4L296.8 1018.4L297.4 1061.1L297.8 1070.1L298.6 1075.6L299.9 1078.8L302 1080.4L307.2 1081.2L315 1081.1L317.5 1080.2L318.8 1078L319.3 1073.9L319.7 1064.5L320.7 1008.9L321.6 1061L322.1 1074.5L322.6 1077.7L323.3 1079.6L324.6 1080.7L326.7 1081.3L336.4 1081.7L366.2 1081.7L371.5 1081.4L373.8 1080.5L374.8 1078.6L375.3 1073.8L376.4 1035.4L377.6 1074.5L378.2 1078.9L378.7 1080L379.5 1080.8L381 1081.3L383.8 1081.6L389.9 1081.6L392.4 1081.4L393.2 1080.2L394.2 1074.7L395.5 1080.7L396 1081.3L397.1 1081.6L403.5 1081.7L406.4 1081.4L407.1 1080.5L408.1 1077L409.3 1081L409.8 1081.4L410.8 1081.6L443.2 1081.7L448.3 1081.5L450.8 1081L451.8 1080.3L452.5 1079.2L453.2 1074.8L454.5 1030.9L455.7 1074.1L456.3 1078.8L456.8 1079.9L457.6 1080.7L459.3 1081.3L461.8 1081.4L463.4 1081L464.2 1080.3L464.8 1076.9L465.7 1064.1L466.8 1078.1L467.3 1080.1L468 1081.1L469.5 1081.5L472.3 1081.7L489.4 1081.7L494 1081.3L496 1080.4L496.9 1078.6L497.4 1074.3L498.5 1040L499.6 1073.6L500.1 1078.4L500.9 1080.3L501.7 1081L503 1081.3L507.9 1081.6L511.9 1081.3L512.9 1080.9L513.5 1080.2L514 1078.8L514.3 1075.7L515.3 1055L516.4 1075.7L516.8 1079L517.3 1080.4L518.8 1081.3L522 1081.6L531.6 1081.6L535.9 1081L537.2 1080.3L538.1 1078.9L538.9 1073.4L540.3 1012.7L541.6 1074.1L542 1077.3L542.6 1079.3L543.6 1080.5L545.1 1081.2L550.8 1081.6L564.2 1081.6L567.7 1081.2L569.2 1080.3L569.9 1078.5L570.3 1074.3L571.4 1045.3L572.6 1076.1L573.1 1079.5L573.7 1080.4L574.4 1081L576.2 1081.5L579.6 1081.7L602.1 1081.8L612.7 1081.6L615.9 1080.9L616.8 1079.5L617.3 1076.4L618.4 1052.9L619.5 1075.8L619.9 1079.2L620.6 1080.6L622.4 1081.4L626.5 1081.7L639.7 1081.6L644.1 1081.1L645 1080.5L645.6 1079.6L646.2 1076.1L647.5 1040L648.8 1076.5L649.6 1079.9L650.4 1080.8L651.6 1081.3L662.2 1081.8L706.4 1081.6L707.5 1081.3L708.1 1080.5L709.2 1074L710.4 1080.3L710.8 1081.2L711.7 1081.5L721.7 1081.8L748.1 1081.6L749.7 1081.2L750.4 1080.3L751.7 1070.9L753 1080.5L753.9 1081.3L756 1081.4L757.3 1080.8L757.9 1079.5L759.1 1066.5L760.3 1079.3L760.9 1080.8L762.1 1081.4L775 1081.8L786.5 1081.4L787.2 1081L787.6 1080.1L788.7 1073.5L789.8 1080L790.2 1081L790.9 1081.4L792.9 1081.4L793.8 1080.8L795.1 1074L796.2 1080.2L796.6 1081.1L797.3 1081.5L803.8 1081.8L823 1081.6L824.2 1081.3L824.7 1080.4L826 1073.5L827.1 1080.3L827.5 1081.2L828.4 1081.5" stroke="#000" stroke-width="4" fill="none" stroke-linejoin="round" clip-path="url(#cc)"/>
<path d="M131.2 1107.6V1129.6M207.2 1107.6V1129.6M282.1 1107.6V1129.6M295.2 1107.6V1129.6M319.7 1107.6V1129.6M340.4 1107.6V1129.6M357.6 1107.6V1129.6M376.5 1107.6V1129.6M394.8 1107.6V1129.6M409.4 1107.6V1129.6M445.2 1107.6V1129.6M454.5 1107.6V1129.6M466.2 1107.6V1129.6M498.7 1107.6V1129.6M515.8 1107.6V1129.6M540.9 1107.6V1129.6M571.4 1107.6V1129.6M588.8 1107.6V1129.6M608.1 1107.6V1129.6M618 1107.6V1129.6M627.2 1107.6V1129.6M654.5 1107.6V1129.6M674.2 1107.6V1129.6M682.4 1107.6V1129.6M703.5 1107.6V1129.6M709.4 1107.6V1129.6M716.2 1107.6V1129.6M733.1 1107.6V1129.6M738.2 1107.6V1129.6M759.2 1107.6V1129.6M785.6 1107.6V1129.6M791.8 1107.6V1129.6M810.5 1107.6V1129.6M824.4 1107.6V1129.6" stroke="#00f" stroke-width="2.6" stroke-linecap="round" fill="none"/>
<path d="M531 1108V1129.2M646.3 1108V1129.2M725 1108V1129.2M750.5 1108V1129.2" stroke="#00f" stroke-width="3.8" stroke-linecap="round" fill="none"/>
<path d="M76.9 1200L83.6 1200.3L87.9 1199.7L91.2 1200.5L94.8 1199.6L97.4 1200L100.5 1199.6L103.7 1200.3L118.8 1199.5L123.7 1200.1L127.7 1199.7L128.5 1199.2L129 1198L130.1 1189.2L131.5 1198.7L132.2 1199.4L133.9 1199.8L140.3 1199.7L143.5 1200.2L146.5 1199.8L156.3 1200L160.9 1199.4L164 1200L175.5 1199.9L178.1 1200.3L182.1 1199.6L190.5 1200.1L218 1199.7L221.9 1200.1L228.4 1199.2L234.3 1200.2L239.7 1200.2L249.1 1199.4L252.8 1200.2L257.3 1200.1L260.2 1199.6L263.5 1200.1L268.9 1200.1L276.4 1199.4L278.5 1198.4L279.2 1195.5L280.4 1163.5L281.7 1222.3L282.6 1205.7L283.2 1200.8L284.1 1200.2L287.6 1200.2L291.6 1199.3L293.4 1198.1L294.1 1196.5L294.6 1189.7L295.7 1157.9L296.7 1193.1L297.2 1199.6L298.4 1199.2L302.2 1200.3L307.1 1199.3L307.7 1198.9L308.8 1196.7L310.3 1199.5L313.1 1199.4L317.5 1199.9L318.3 1201.8L319.4 1209.7L320.6 1201.7L321 1200.6L321.7 1200.2L324.5 1199.7L333.1 1200L336.9 1199.5L344.1 1200.3L349.6 1199.6L350.4 1197.4L351.5 1188.2L352.6 1197.3L353.3 1199.3L355.9 1199.4L359.5 1200.5L367.5 1199.3L373.8 1200.3L374.7 1201.4L375.8 1205.9L376.9 1201.1L377.5 1200L379.4 1199.7L383 1200.2L384.2 1199.6L385.8 1190.5L386.8 1197.8L387.5 1199.4L393.1 1199.9L395.4 1199.7L397.9 1200.2L401 1199.6L417.9 1200.2L422.7 1199.5L425.8 1200L428.5 1199.7L436.4 1200.1L444.3 1199.8L447.3 1200.5L450.1 1199.8L452.6 1200L453.2 1199.7L453.6 1198.7L454.7 1192.9L455.8 1202.1L457.2 1200L463.7 1200.6L464.5 1201.8L465.5 1207L466.7 1201L467.1 1200.2L467.9 1199.9L484.1 1200.1L495.8 1199.6L496.6 1199.1L497.5 1196.4L498.8 1201.2L499.9 1200.2L503.9 1199.5L508.2 1200.2L512.8 1199.9L513.7 1198.5L514.9 1191.1L516 1197.9L516.8 1199.5L519.4 1200L523 1200L526.6 1199.3L532.1 1199.7L537 1199.3L537.9 1198.7L538.3 1196.9L539.5 1178.9L540.5 1200.2L540.9 1202.8L541.6 1200.4L542.4 1199.8L548.2 1199.9L551.8 1199.4L557.2 1200.6L560.5 1199.6L566.1 1199.9L569.2 1199.4L570.1 1198.2L571.1 1193.3L572.2 1203.7L573.2 1200.5L574 1200L577.7 1200.2L583.1 1199.2L586.1 1200L588.6 1199.8L598.9 1200.2L607.6 1199.5L611 1200L616.5 1199.1L618 1192.7L619.2 1198.6L619.6 1199.4L620.2 1199.6L624.2 1199.3L634.9 1200.3L644.9 1200.3L645.7 1199.7L646.8 1196L647.8 1204.9L649.3 1200.6L656.8 1199.5L667.3 1200.5L672.1 1199.4L676.3 1200.2L679.9 1199.8L684.3 1200.2L688.9 1199.5L693.2 1200.2L706.7 1199.8L708.1 1200.4L709.2 1203L710.6 1200.5L714.7 1200L719.5 1200.3L723.4 1199.6L731.5 1199.6L734.2 1200.2L739.7 1199.8L750 1200L751 1200.9L752.2 1207L753.6 1201.2L757.3 1200L770.9 1199.8L774 1200.6L777.1 1199.8L780.7 1200.4L787.6 1200L788.6 1200.7L789.8 1204.7L790.8 1200.8L791.5 1200.1L794.8 1199.9L798 1200.4L802.4 1199.7L806.8 1200.2L820.3 1200.2L824.9 1199.3L826.3 1195L827.4 1199.2L828.4 1199.8" stroke="#0f0" stroke-width="3.9" fill="none" stroke-linejoin="round" clip-path="url(#cc)"/>
<path d="M76.9 693.8V1248.6" stroke="#4a4a4a" stroke-width="2.5"/>
<path d="M828.4 693.8V1248.6" stroke="#333" stroke-width="2.2"/>
<path d="M75.7 693.8H829.5" stroke="#222" stroke-width="2.2"/>
<path d="M75.7 1248.6H829.5" stroke="#111" stroke-width="2.2"/>
<path d="M76.9 1248.6v10.5M130.6 1248.6v5.2M184.3 1248.6v10.5M237.9 1248.6v5.2M291.6 1248.6v10.5M345.3 1248.6v5.2M399 1248.6v10.5M452.6 1248.6v5.2M506.3 1248.6v10.5M560 1248.6v5.2M613.7 1248.6v10.5M667.4 1248.6v5.2M721 1248.6v10.5M774.7 1248.6v5.2M828.4 1248.6v10.5" stroke="#222" stroke-width="2.2" fill="none"/>
<text x="76.9" y="1292.6" font-size="33.5" font-family='"Liberation Serif", "Times New Roman", serif' text-anchor="middle">10</text>
<text x="184.3" y="1292.6" font-size="33.5" font-family='"Liberation Serif", "Times New Roman", serif' text-anchor="middle">20</text>
<text x="291.6" y="1292.6" font-size="33.5" font-family='"Liberation Serif", "Times New Roman", serif' text-anchor="middle">30</text>
<text x="399.0" y="1292.6" font-size="33.5" font-family='"Liberation Serif", "Times New Roman", serif' text-anchor="middle">40</text>
<text x="506.3" y="1292.6" font-size="33.5" font-family='"Liberation Serif", "Times New Roman", serif' text-anchor="middle">50</text>
<text x="613.7" y="1292.6" font-size="33.5" font-family='"Liberation Serif", "Times New Roman", serif' text-anchor="middle">60</text>
<text x="721.0" y="1292.6" font-size="33.5" font-family='"Liberation Serif", "Times New Roman", serif' text-anchor="middle">70</text>
<text x="828.4" y="1292.6" font-size="33.5" font-family='"Liberation Serif", "Times New Roman", serif' text-anchor="middle">80</text>
<text x="1.7" y="740.2" font-size="48" font-family='"Liberation Serif", "Times New Roman", serif'>(c)</text>
<text x="399.1" y="785.2" font-size="34.4" font-family='"Liberation Serif", "Times New Roman", serif' textLength="133.6" lengthAdjust="spacingAndGlyphs">Cu-doped</text>
<text x="715.4" y="729.2" font-size="28" font-family='"Liberation Sans", Arial, sans-serif'>calc</text>
<text x="715.4" y="764.7" font-size="28" font-family='"Liberation Sans", Arial, sans-serif'>obs</text>
<text x="715.2" y="800.2" font-size="28" font-family='"Liberation Sans", Arial, sans-serif' textLength="102.1" lengthAdjust="spacingAndGlyphs">Cu:PbO</text>
<text x="715.4" y="833.8" font-size="28" font-family='"Liberation Sans", Arial, sans-serif'>diff</text>
<path d="M644.4 720.1H707.5" stroke="#000" stroke-width="3.8" stroke-linecap="round"/>
<circle cx="675.9" cy="754.9" r="6.6" fill="#f00"/>
<path d="M675.9 778.6V801.6" stroke="#00f" stroke-width="2.6" stroke-linecap="round"/>
<path d="M644.4 824.9H707.5" stroke="#0f0" stroke-width="3.8" stroke-linecap="round"/>
<g transform="translate(39.2 964.5) rotate(-90)"><text x="0.0" y="0.0" font-size="46.7" font-family='"Liberation Serif", "Times New Roman", serif' text-anchor="middle" textLength="274.3" lengthAdjust="spacingAndGlyphs">Intensity (a.u.)</text></g>
<text x="344.0" y="1339.1" font-size="47" font-family='"Liberation Serif", "Times New Roman", serif' textLength="217.2" lengthAdjust="spacingAndGlyphs">2θ (degree)</text>
</g>
<g id="pd">
<clipPath id="cd"><rect x="946.8" y="695.9" width="752.4" height="554.2"/></clipPath>
<g fill="none" stroke="#f00" stroke-linecap="round" stroke-linejoin="round" clip-path="url(#cd)"><path d="M946.9 1041.8L950.4 1041.9L955.1 1041.6L959.4 1042.1L963.5 1041.7L968 1042.2L972.9 1041.6L984.1 1042.7L990.6 1041.6L995.7 1042.1L1000 1041.9L1003 1042.1L1008.2 1041.6L1016.8 1042.5L1019.4 1042.3L1024.1 1041.5L1033.3 1041.3L1039.4 1041.5L1047.3 1041.2L1049.7 1041.3L1054.6 1042.2L1060.9 1041.7L1066.4 1042.4L1071.2 1042.1L1075 1042.1L1082.8 1042.7L1089 1041.5L1093.3 1041.9L1098.5 1041.3L1105.4 1042.3L1110.7 1042.2L1117.2 1042.4L1124.3 1041.4L1134.6 1042.1L1140.6 1041.8L1148.1 1041L1151.4 1041.3L1155.9 1042.3L1158.7 1042.4L1162.7 1042.2L1167.7 1041.2L1169.6 1041L1173.1 1041.4L1181.2 1042.8L1195.4 1041.5L1199.7 1041.8L1210 1041.6L1214.8 1042L1219.1 1042L1224 1042.8L1225.7 1042.6L1229.4 1041.5L1232.2 1041.2L1238.2 1041.6L1245.1 1041.5L1249.8 1042.5L1251.5 1042.6L1253.3 1042.5L1257.6 1041.5L1262.7 1041.1L1268.5 1042L1277.8 1042.6L1296 1041.1L1302.7 1041.7L1308.1 1041.3L1314.7 1042.5L1321.4 1041.9L1332.4 1042L1337.3 1041.7L1344.8 1042.9L1356 1041.5L1365.7 1041.9L1372.6 1041.1L1374.3 1041.3L1377.5 1042.2L1379.2 1042.5L1384 1042L1388.9 1042.4L1393.2 1042L1396.9 1042L1402.7 1041.1L1410 1041.4L1413.8 1042.4L1415.3 1042.5L1420.7 1041.6L1426.7 1041.4L1429.3 1041.5L1436 1042.4L1442.9 1041.5L1452.5 1041.7L1457.7 1041.4L1463.5 1042.2L1473.4 1041.3L1479.8 1042.5L1481.3 1042.3L1484.6 1041.3L1486.1 1041.1L1488.4 1041.4L1493.2 1042.5L1495.3 1042.7L1497.2 1042.5L1501.8 1041.5L1506.5 1041.6L1511.6 1041.1L1520.9 1042.2L1526.7 1041.4L1539.2 1041.3L1547.8 1042.1L1554.9 1041.2L1564.5 1042.2L1570.1 1042.1L1574.4 1042.5L1583.2 1041.5L1594.4 1042.2L1600 1041.8L1605.6 1041.7L1611.8 1042.3L1618.5 1042L1623.6 1041.3L1629.9 1042.1L1640.6 1041.5L1647.5 1042L1654.2 1041L1663 1042L1667.9 1041.7L1673.7 1042.1L1678.9 1041.8L1685.8 1041.9L1694.4 1041.2L1699.1 1041.6" stroke-width="15.2"/><path d="M946.9 1041.8L955.1 1041.6L959.4 1042.1L963.5 1041.7L968 1042.2L972.9 1041.6L984.1 1042.7L990.3 1041.6L997.2 1041.8L998.9 1041.4L999.6 1040.6L1000.4 1033.7M1001.3 1016.4L1001.5 1014L1001.9 1016.7M1002.8 1034.2L1003.2 1038.9L1004.1 1041.4L1015.1 1042.4L1018.5 1042.4L1023.9 1041.5L1032.9 1041.3L1048.4 1041.2L1054.8 1042.2L1060.6 1041.7L1066.7 1042.3L1074.4 1042L1076.1 1041.2L1077.8 1038.2L1080 1041.8L1082.1 1042.6L1088.4 1041.5L1093.5 1041.9L1098 1041.3L1105.6 1042.3L1117.4 1042.4L1124.5 1041.3L1135.7 1041.8L1140.8 1041.2L1144.5 1040.3L1147.1 1039L1148.8 1036.9L1149.6 1034.2L1150.1 1030.3M1155.2 1029.5L1156.1 1036.6L1156.9 1038.5L1158.2 1039.8L1160.6 1040.2L1162.3 1039.3L1163.2 1037.4L1163.6 1034.1M1168.3 1032L1169 1037L1170.1 1038.9L1172.9 1040.5L1179.3 1042.2L1183.4 1042.3L1187 1041.3L1187.9 1039.7L1188.3 1036.2M1189.8 980L1190 977.3L1190.3 980.5M1191.8 1036.1L1192.4 1039.9L1193.9 1040.9L1199.5 1041.6L1209.4 1041.5L1218.6 1041.9L1223.8 1042.7L1225.3 1042.1L1227.2 1039.9L1229.6 1041.2L1238.6 1041.5L1243.1 1040.8L1244.2 1039.6L1244.9 1034.6M1246.2 996.8L1246.4 994.9L1246.6 997.2M1247.9 1035.4L1248.7 1041L1250.7 1042.2L1253 1042.3L1261.6 1040.8L1262.5 1040L1264.2 1036L1266.1 1040.5L1267.2 1041.6L1278 1042.5L1280.1 1042.1L1282.3 1039.9L1284.9 1041.8L1295.6 1041L1302.3 1041.4L1303.3 1039.9L1305.3 1033.3L1307.6 1040.6L1314.9 1042.4L1321 1041.4L1322.5 1040.7L1323.1 1038.5L1323.5 1033.5M1324.8 997.7L1325.1 997.8M1326.3 1033.8L1326.8 1038.7L1327.4 1040.8L1329.4 1041.5L1332.8 1041.6L1333.7 1041.2L1334.3 1040L1336.2 1031.9L1338.6 1040.9L1340.3 1042L1344.4 1042.8L1356.2 1041.4L1365.7 1041.4L1367 1040.3L1367.6 1036.1M1368.9 1005.3L1369.1 1003.7L1369.3 1005.5M1370.4 1032.7L1370.8 1037.9L1371.5 1040.1L1377.7 1042.1L1380.5 1042.1L1382.9 1041.2L1383.5 1039.5L1384 1035.6M1385 1011.1L1385.2 1008.3L1385.7 1011.6M1386.7 1036.1L1387.2 1039.9L1388 1041.7L1389.8 1042.1L1396.9 1041.9L1408 1040.5L1409.1 1038.7L1409.5 1034.7M1411 985.4L1411.3 985.7M1412.8 1035.7L1413.4 1040.5L1414.1 1041.5L1415.1 1042L1427.4 1041.3L1435.5 1042.2L1437.9 1041.9L1439.6 1041L1440.3 1039.4L1440.7 1035.8M1442 1003.5L1442.2 1001.8L1442.4 1003.7M1443.7 1035.8L1444.4 1040L1445 1040.8L1446.5 1041.3L1452.7 1041.7L1456.6 1041.3L1457.7 1040.7L1459.4 1038.3L1461.3 1041.3L1462.6 1042L1473.6 1041.2L1479.8 1042.4L1482 1042L1485.6 1040.3L1486.3 1038.4L1486.7 1034.3M1487.8 1013.6L1488 1012.4L1488.2 1013.9M1489.3 1035.1L1490.4 1041L1492.5 1042.2L1495.3 1042.6L1501.8 1041.4L1506.7 1041.6L1514.7 1040.7L1515.5 1039L1515.9 1035.1M1517 1010.6L1517.2 1007.8L1517.7 1011.1M1518.7 1035.8L1519.6 1041L1521.5 1041.9L1526.7 1041.3L1539.4 1041.3L1547.5 1042.1L1554.9 1041.2L1564.7 1042.2L1575.1 1042.4L1576.8 1041.5L1578.9 1036.3L1580.7 1040.5L1581.7 1041.3L1594.6 1042.2L1601.5 1041.6L1602.8 1041L1604.7 1038.4L1606.4 1041L1607.3 1041.6L1611 1042.2L1615.3 1042.1L1618.5 1041.8L1619.6 1040.9L1621.7 1032.2L1622.1 1032.6L1623.9 1039.7L1624.7 1040.7L1625.8 1040.5L1626.7 1038.2L1628.2 1030.7L1630.1 1039.8L1630.7 1041.3L1631.6 1041.7L1641.1 1041.4L1647.7 1042L1654.2 1040.7L1655.5 1039.4L1657.2 1034L1659.3 1039.9L1660 1039.5L1661.3 1035.8L1661.7 1035.6L1663.4 1040.6L1664.5 1041.7L1673.7 1042.1L1686.2 1041.9L1695 1040.6L1695.9 1037.6L1697 1028.8L1698.5 1039.3L1699.1 1041" stroke-width="13.2"/><path d="M1152.7 728.7h0M1152.8 744.2h0M1153.1 754.1h0M1152.6 772.9h0M1153.1 799.4h0M1152.8 814.9h0M1153 843.6h0M1152.6 860.2h0M1152.6 892.2h0M1152.5 901h0M1153 934.2h0M1152.9 940.8h0M1153 955.1h0M1152.6 980.5h0M1152.6 994.9h0M1166 882.2h0M1165.9 890h0M1165.7 912.1h0M1166.3 934.2h0M1166.4 950.7h0M1166.5 970.6h0M1166.4 994.9h0M1165.9 1008.2h0M1166.2 1018.1h0M1000.7 1029.8h0M1000.9 1025.2h0M1001.1 1020.4h0M1002.2 1020.9h0M1002.4 1025.8h0M1002.6 1030.4h0M1150.3 1026.4h0M1150.5 1020.1h0M1150.7 1010h0M1154.6 1003.7h0M1154.8 1016.3h0M1155 1024.4h0M1163.8 1030.8h0M1164 1025.7h0M1167.9 1021.5h0M1168.1 1027.9h0M1188.5 1032.5h0M1188.8 1026.9h0M1189 1019.1h0M1189.2 1009.2h0M1189.4 998.2h0M1189.6 987.7h0M1190.5 988.5h0M1190.7 999.1h0M1190.9 1010h0M1191.1 1019.7h0M1191.3 1027.3h0M1191.6 1032.6h0M1245.1 1030.5h0M1245.3 1024.9h0M1245.5 1017.8h0M1245.7 1009.9h0M1245.9 1002.3h0M1246.8 1003.1h0M1247 1010.8h0M1247.2 1018.8h0M1247.4 1025.8h0M1247.7 1031.4h0M1323.8 1028.9h0M1324 1022.7h0M1324.2 1015.4h0M1324.4 1007.9h0M1324.6 1001.4h0M1325.3 1001.9h0M1325.5 1008.5h0M1325.7 1016.1h0M1325.9 1023.4h0M1326.1 1029.4h0M1367.8 1032.8h0M1368 1028.2h0M1368.3 1022.4h0M1368.5 1016h0M1368.7 1009.8h0M1369.6 1010.2h0M1369.8 1016.3h0M1370 1022.7h0M1370.2 1028.3h0M1384.2 1032.1h0M1384.4 1027.4h0M1384.6 1021.8h0M1384.8 1016.1h0M1385.9 1016.7h0M1386.1 1022.5h0M1386.3 1028h0M1386.5 1032.7h0M1409.8 1030.8h0M1410 1024.9h0M1410.2 1017.2h0M1410.4 1007.9h0M1410.6 998.3h0M1410.8 990.1h0M1411.5 990.9h0M1411.7 999.4h0M1411.9 1009.2h0M1412.1 1018.4h0M1412.3 1026.1h0M1412.5 1031.8h0M1440.9 1032.3h0M1441.1 1027.5h0M1441.4 1021.4h0M1441.6 1014.6h0M1441.8 1008.2h0M1442.6 1008.7h0M1442.9 1015.2h0M1443.1 1021.9h0M1443.3 1027.8h0M1443.5 1032.5h0M1486.9 1030.9h0M1487.1 1026.5h0M1487.4 1021.6h0M1487.6 1017h0M1488.4 1017.5h0M1488.6 1022.3h0M1488.9 1027.2h0M1489.1 1031.6h0M1516.2 1031.6h0M1516.4 1026.9h0M1516.6 1021.3h0M1516.8 1015.5h0M1517.9 1016.2h0M1518.1 1022.1h0M1518.3 1027.7h0M1518.5 1032.4h0" stroke-width="13.2"/></g>
<path d="M946.8 1043.1L992.2 1043L996.8 1042.7L998.9 1042.1L999.9 1040.4L1000.5 1036.3L1001.6 1003.5L1002.9 1037.9L1003.6 1041.2L1004.4 1042.1L1005.6 1042.6L1015.4 1043.1L1074.7 1043L1076.7 1042.6L1077.9 1040L1079.1 1042.6L1080.7 1043L1133.8 1042.9L1140.5 1042.6L1144.4 1042.2L1146.9 1041.2L1148.5 1039.7L1149.8 1036.4L1150.7 1030.5L1151.5 1007.4L1152.9 736.3L1153.8 955.8L1154.3 1012.5L1154.7 1026.1L1155.4 1033.7L1156.6 1038.4L1157.5 1039.8L1158.5 1040.7L1159.8 1041.2L1161 1041.2L1162.1 1040.9L1162.9 1040.2L1164 1037.7L1164.5 1033.2L1165.1 1011.8L1166.1 929.1L1167 1009L1167.5 1031.9L1168 1036.7L1168.7 1039.7L1170 1041.4L1172.2 1042.3L1177.9 1042.7L1184.7 1042.6L1187 1041.8L1188.1 1040.1L1188.6 1037L1189 1029.8L1190 987L1191 1027.1L1191.5 1037.4L1191.9 1040L1192.7 1041.4L1193.9 1042.3L1196 1042.7L1204.4 1043L1224.7 1043L1226 1042.7L1227.1 1041L1228.2 1042.6L1229.4 1043L1240.2 1042.9L1242.4 1042.6L1243.7 1042.1L1244.7 1040.5L1245.2 1036.6L1246.3 1007.1L1247.7 1038.5L1248.4 1041.5L1249.2 1042.2L1250.4 1042.6L1255.6 1043L1262.5 1042.8L1263.3 1042.1L1264.3 1038.9L1265.5 1042.4L1266.1 1042.8L1267.3 1043L1314.1 1043L1319.5 1042.8L1321.9 1042.3L1322.7 1041.7L1323.2 1040.9L1323.7 1037.5L1324.9 1007.1L1326.1 1037.4L1326.7 1041L1328.1 1042.3L1331.8 1042.8L1334.6 1042.4L1335.3 1040.9L1336.2 1035L1337.3 1041.5L1337.8 1042.4L1338.6 1042.8L1343.6 1043L1361 1043L1364.8 1042.7L1366.6 1042L1367.5 1040.6L1368 1037.3L1369.1 1010.9L1370.2 1036.8L1370.7 1040.5L1371.5 1042L1373.8 1042.7L1379.2 1042.9L1382.2 1042.6L1383.5 1041.6L1384 1040.1L1384.4 1037L1385.3 1018.5L1386.4 1037.5L1386.8 1040.5L1387.4 1041.9L1388.8 1042.6L1391.9 1042.9L1402.1 1042.9L1406.7 1042.5L1408.1 1042L1408.9 1041L1409.5 1039.5L1409.8 1036.9L1411.1 992L1412.5 1037.4L1412.9 1039.7L1413.5 1041.2L1414.4 1042.1L1416 1042.6L1422 1043L1435.3 1042.9L1438.5 1042.6L1440.1 1041.7L1440.7 1040.2L1441.1 1036.3L1442.2 1011.5L1443.4 1038.4L1444 1041.2L1445.2 1042.4L1447.1 1042.8L1450.7 1043L1475.1 1043L1482.8 1042.9L1485.5 1042.2L1486.4 1040.9L1486.9 1037.8L1488 1013.8L1489 1036.8L1489.5 1040.4L1490.1 1041.8L1491.8 1042.7L1495.8 1043L1509.5 1043L1513.9 1042.4L1514.8 1041.9L1515.4 1041L1516.1 1037.6L1517.3 1004.5L1518.7 1038.4L1519.4 1041.4L1520.3 1042.2L1521.5 1042.6L1532.3 1043.1L1576 1042.9L1577.1 1042.6L1577.7 1041.8L1578.8 1035.4L1580 1041.8L1580.5 1042.6L1581.4 1042.9L1594.9 1043.1L1619.3 1042.9L1620.2 1042.6L1620.7 1042L1621.8 1037.6L1623.1 1042.2L1623.7 1042.7L1625.2 1042.7L1626.5 1042.2L1627.1 1040.8L1628.3 1028.4L1629.5 1040.8L1630 1042.2L1631.3 1042.8L1638.4 1043.1L1655.1 1042.9L1656.2 1042.2L1657.3 1038.9L1658.3 1042.1L1659.2 1042.7L1660 1042.7L1660.5 1042.2L1661.6 1038.9L1662.7 1042.3L1663.9 1042.9L1687 1043.1L1694.1 1042.8L1695.3 1042.2L1695.8 1040.8L1697.1 1028.4L1698.1 1040.1L1698.6 1041.8L1699.2 1042.5" stroke="#000" stroke-width="4" fill="none" stroke-linejoin="round" clip-path="url(#cd)"/>
<path d="M1001.5 1062.7V1085M1077.6 1062.7V1085M1152.5 1062.7V1085M1165.6 1062.7V1085M1190.3 1062.7V1085M1210.9 1062.7V1085M1228.2 1062.7V1085M1247.1 1062.7V1085M1265.4 1062.7V1085M1280 1062.7V1085M1315.9 1062.7V1085M1325.1 1062.7V1085M1336.9 1062.7V1085M1369.4 1062.7V1085M1386.5 1062.7V1085M1411.7 1062.7V1085M1442.2 1062.7V1085M1459.6 1062.7V1085M1479 1062.7V1085M1488.9 1062.7V1085M1498.1 1062.7V1085M1525.4 1062.7V1085M1545.2 1062.7V1085M1553.3 1062.7V1085M1574.5 1062.7V1085M1580.4 1062.7V1085M1587.2 1062.7V1085M1604.1 1062.7V1085M1609.2 1062.7V1085M1630.2 1062.7V1085M1656.6 1062.7V1085M1662.9 1062.7V1085M1681.6 1062.7V1085M1695.5 1062.7V1085" stroke="#00f" stroke-width="2.6" stroke-linecap="round" fill="none"/>
<path d="M1401.8 1063.1V1084.6M1517.2 1063.1V1084.6M1596 1063.1V1084.6M1621.5 1063.1V1084.6" stroke="#00f" stroke-width="3.8" stroke-linecap="round" fill="none"/>
<path d="M946.8 1161L950.6 1160.6L960.1 1161L969 1160.5L971.7 1160.8L979.9 1160.2L987.4 1160.9L995.5 1160.6L999.3 1159.9L1000.5 1154.3L1001.7 1167.3L1003 1161L1005.6 1160L1007 1157.2L1008.5 1160L1012 1160.6L1017.1 1160.6L1020.3 1161.1L1027.1 1160.7L1029.7 1161.1L1033.2 1160.2L1037.6 1160.5L1041 1161.5L1043.8 1160.8L1046.7 1161.2L1051.1 1160.6L1054 1161.1L1056.7 1160.5L1059.7 1160.7L1062.5 1160.4L1066 1161.1L1069.1 1160.5L1076.5 1161.2L1077.9 1162.6L1079 1160.9L1080 1160.5L1087.1 1160.9L1089.8 1160.6L1092.6 1160.9L1107.3 1160.6L1115.6 1161L1119.7 1160.3L1123.3 1160.9L1126.6 1160.2L1129.5 1160.8L1138.1 1160.9L1142.1 1160.4L1143.5 1157.8L1144.9 1160.3L1147.9 1160.5L1150.3 1158.9L1151 1154.8L1152.4 1107.5L1153.8 1160L1154 1160.5L1155.2 1159.6L1159 1160.7L1163.2 1159.8L1164.1 1159.3L1164.7 1158.4L1165.3 1153.1L1166.6 1105.5L1168 1154.9L1168.8 1159.1L1169.6 1160L1171.1 1160.5L1178.3 1160.4L1186.5 1160.9L1188.5 1160.3L1189.4 1157.1L1190.5 1143.5L1191.5 1157.2L1192.2 1160.1L1193 1160.6L1200.6 1161L1209.6 1160.3L1212.6 1160.8L1215.1 1160.5L1220.9 1160.5L1223.8 1160.9L1228.8 1160.7L1232.4 1161.3L1236.4 1160.6L1243.5 1160.4L1244.2 1159.9L1244.6 1158.3L1245.8 1147.5L1246.8 1159.6L1247.3 1161.2L1248.5 1160.6L1256.8 1160.8L1260.4 1160.4L1264.2 1161L1268.3 1160.5L1280.3 1160.8L1287.4 1160L1290.8 1160.6L1294.4 1160.3L1299 1161.1L1303.7 1159.6L1305.2 1150.8L1306.2 1158.6L1306.9 1160.3L1309.8 1160.7L1313.3 1160.4L1319.7 1161L1322.5 1160.3L1323.2 1159.6L1324.7 1148.1L1326.1 1159.3L1326.8 1160.2L1328.9 1160.7L1339.2 1161L1345.8 1160.5L1355.7 1161.3L1359 1160.8L1367.2 1160.4L1368.1 1159.1L1369.2 1153.8L1370.3 1159.2L1370.9 1160.4L1377.2 1160.7L1382.7 1160.4L1383.5 1160L1384.1 1159L1385.3 1150.2L1386.4 1157.9L1387.3 1159.8L1391.1 1160.3L1394 1161.1L1397.2 1160.8L1400.5 1161.4L1409.4 1160.1L1410.1 1158L1411 1149.7L1412.3 1163.5L1413.2 1161L1413.8 1160.5L1418 1161L1421.3 1160.7L1426.7 1161.1L1432.9 1160.3L1437.4 1160.4L1440.3 1160L1441.1 1158.3L1442.3 1148.4L1443.5 1158.5L1444 1160L1444.9 1160.5L1449.4 1160.2L1458 1160.8L1461.1 1160.4L1469.4 1161L1476.1 1160.6L1485.4 1161.1L1487.1 1160.5L1488.3 1157.7L1489.5 1163.1L1490.7 1161.6L1495 1160.9L1500.9 1161.1L1504 1160.7L1514.3 1160.8L1515.4 1161.2L1515.9 1162.2L1517.2 1170.9L1518.7 1161.7L1519.9 1160.8L1522.1 1160.2L1527.4 1160.1L1531.1 1160.6L1534 1160.4L1536.7 1160.9L1539.6 1160.5L1542.5 1161.1L1550 1160.8L1554 1160.1L1557.4 1160.8L1565.7 1160.1L1569.4 1161L1573.5 1160.4L1577.3 1160.8L1578.8 1163.8L1580 1161.5L1581 1161.1L1591.4 1160.5L1596.3 1160.9L1598.6 1160.5L1603.6 1161.2L1606.7 1160.6L1615.4 1160.5L1620.2 1161.2L1621.8 1166.8L1622.9 1162.2L1623.4 1161.3L1626.1 1161.3L1632.3 1160.2L1643.6 1161.5L1647.9 1160.2L1651.9 1161.1L1655.6 1160.5L1671 1160.6L1674.9 1161.2L1678.3 1160.6L1693.8 1160.6L1695.2 1160.8L1695.8 1161.5L1697.1 1167.7L1698.2 1162.2L1699.2 1161.1" stroke="#0f0" stroke-width="3.9" fill="none" stroke-linejoin="round" clip-path="url(#cd)"/>
<path d="M946.8 695.9V1250.1" stroke="#4a4a4a" stroke-width="2.5"/>
<path d="M1699.2 695.9V1250.1" stroke="#333" stroke-width="2.2"/>
<path d="M945.6 695.9H1700.3" stroke="#222" stroke-width="2.2"/>
<path d="M945.6 1250.1H1700.3" stroke="#111" stroke-width="2.2"/>
<path d="M946.8 1250.1v10.5M1000.5 1250.1v5.2M1054.3 1250.1v10.5M1108 1250.1v5.2M1161.8 1250.1v10.5M1215.5 1250.1v5.2M1269.3 1250.1v10.5M1323 1250.1v5.2M1376.7 1250.1v10.5M1430.5 1250.1v5.2M1484.2 1250.1v10.5M1538 1250.1v5.2M1591.7 1250.1v10.5M1645.5 1250.1v5.2M1699.2 1250.1v10.5" stroke="#222" stroke-width="2.2" fill="none"/>
<text x="946.8" y="1294.8" font-size="33.5" font-family='"Liberation Serif", "Times New Roman", serif' text-anchor="middle">10</text>
<text x="1054.3" y="1294.8" font-size="33.5" font-family='"Liberation Serif", "Times New Roman", serif' text-anchor="middle">20</text>
<text x="1161.8" y="1294.8" font-size="33.5" font-family='"Liberation Serif", "Times New Roman", serif' text-anchor="middle">30</text>
<text x="1269.3" y="1294.8" font-size="33.5" font-family='"Liberation Serif", "Times New Roman", serif' text-anchor="middle">40</text>
<text x="1376.7" y="1294.8" font-size="33.5" font-family='"Liberation Serif", "Times New Roman", serif' text-anchor="middle">50</text>
<text x="1484.2" y="1294.8" font-size="33.5" font-family='"Liberation Serif", "Times New Roman", serif' text-anchor="middle">60</text>
<text x="1591.7" y="1294.8" font-size="33.5" font-family='"Liberation Serif", "Times New Roman", serif' text-anchor="middle">70</text>
<text x="1699.2" y="1294.8" font-size="33.5" font-family='"Liberation Serif", "Times New Roman", serif' text-anchor="middle">80</text>
<text x="870.3" y="740.2" font-size="48" font-family='"Liberation Serif", "Times New Roman", serif'>(d)</text>
<text x="1252.0" y="772.2" font-size="34.4" font-family='"Liberation Serif", "Times New Roman", serif' textLength="127.1" lengthAdjust="spacingAndGlyphs">Ni-doped</text>
<text x="1593.6" y="736.1" font-size="28" font-family='"Liberation Sans", Arial, sans-serif'>calc</text>
<text x="1593.6" y="771.6" font-size="28" font-family='"Liberation Sans", Arial, sans-serif'>obs</text>
<text x="1592.4" y="807.0" font-size="28" font-family='"Liberation Sans", Arial, sans-serif' textLength="94.4" lengthAdjust="spacingAndGlyphs">Ni:PbO</text>
<text x="1593.6" y="840.7" font-size="28" font-family='"Liberation Sans", Arial, sans-serif'>diff</text>
<path d="M1522.6 725.9H1585" stroke="#000" stroke-width="3.8" stroke-linecap="round"/>
<circle cx="1553.8" cy="761.5" r="6.6" fill="#f00"/>
<path d="M1553.8 785.4V809.1" stroke="#00f" stroke-width="2.6" stroke-linecap="round"/>
<path d="M1522.6 831.8H1585" stroke="#0f0" stroke-width="3.8" stroke-linecap="round"/>
<g transform="translate(909.2 972.4) rotate(-90)"><text x="0.0" y="0.0" font-size="46.7" font-family='"Liberation Serif", "Times New Roman", serif' text-anchor="middle" textLength="273.4" lengthAdjust="spacingAndGlyphs">Intensity (a.u.)</text></g>
<text x="1213.8" y="1337.5" font-size="47" font-family='"Liberation Serif", "Times New Roman", serif' textLength="217.2" lengthAdjust="spacingAndGlyphs">2θ (degree)</text>
</g>
<g id="pe">
<clipPath id="ce"><rect x="73.9" y="1385.6" width="751.8" height="551.7"/></clipPath>
<g fill="none" stroke="#f00" stroke-linecap="round" stroke-linejoin="round" clip-path="url(#ce)"><path d="M74.1 1721.2L86.8 1720.9L94.3 1721.6L101.8 1721L108.5 1721.5L113.6 1721L118.8 1721.2L125.4 1720.3L138.1 1721L146 1720.7L154.4 1720.7L162.2 1721.8L165 1721.6L170.1 1720.7L172.7 1720.5L188.4 1721.5L197 1721.1L203.2 1721.4L207.3 1721L213.5 1721.5L220.2 1721L233.7 1721.5L241.6 1721.1L250.9 1721L257.1 1721.9L262.9 1721.2L268.5 1721.3L277.5 1720.7L284.8 1721.7L291.7 1720.7L297.9 1721L304.6 1720.7L310.6 1721.4L314.5 1721L321.5 1720.8L326.9 1721.2L332.7 1720.4L340 1721.1L348.6 1721.2L354.8 1721.6L361.3 1721.2L367.9 1721.8L375 1720.9L381.5 1721.2L386.8 1720.8L391.1 1721.2L396.7 1721.1L404 1722L415.8 1721L421 1720.2L422.9 1720.3L427.4 1721.2L431.1 1721.4L438.2 1720.9L444.6 1719.9L450.2 1720.8L456.9 1721.4L465.2 1720.5L479.2 1721.6L486.3 1720.5L490.8 1721L494.9 1721L499.2 1721.5L505.2 1721L512.3 1721.8L523.2 1720.7L529.3 1721.9L535.3 1721.2L541.5 1722L546.6 1721.7L551.4 1722L558.5 1721.2L567.9 1721.3L573.9 1720.9L580.4 1721.6L586.2 1720.4L591.3 1721.4L596.9 1720.2L604.9 1721.3L610.9 1721.1L615.6 1721.3L629.3 1720.8L645 1721.4L650.4 1721.3L656.4 1722.2L662.4 1721.4L666.5 1721.2L670.2 1721.2L675.7 1721.9L685.2 1721.7L694.2 1720.5L696.4 1720.7L702 1721.7L709.7 1721.7L715.5 1722.2L717.4 1722L721.9 1721L724.3 1720.7L732.2 1721.9L741.7 1720.7L750.9 1720.6L758.7 1721.4L764.5 1720.6L767 1720.6L772.2 1720.8L776.5 1721.7L778.4 1721.8L785.3 1720.7L797.5 1721.5L810 1720.3L813.2 1720.5L819.2 1721.5L825.7 1721.4" stroke-width="15.2"/><path d="M74.1 1721.2L87 1720.9L94.9 1721.6L101.6 1721L108 1721.5L119.2 1721.1L125.2 1719.3L125.9 1717.9L126.3 1714.5M127.8 1667.3L128 1666.8M129.5 1714L129.9 1717.9L130.6 1719.5L132.5 1720.3L137.2 1720.9L154.2 1720.7L162.4 1721.8L172.3 1720.5L187.3 1721.4L201.3 1721.2L202.5 1720.4L204.5 1715.7L206.8 1720.5L210.5 1721.2L214.1 1721.4L220.2 1721L233.7 1721.5L250.9 1720.9L257.1 1721.7L268.7 1720.7L272.8 1719.6L274.3 1718.5L275.4 1716.9L276.4 1711.6M281.6 1710.4L282.7 1716.9L283.7 1718.5L285.2 1719.2L287 1718.7L288.5 1717L289.3 1714.5L289.7 1711.1M294.9 1709.8L295.3 1714.2L296.2 1717.1L297.7 1718.9L299.8 1719.7L309.9 1721L313.8 1720.4L315.1 1719L315.7 1713.6M317 1679.7L317.2 1679.2M318.5 1712.7L319 1717.7L319.6 1719.7L326.5 1721.1L332.5 1720.3L340 1721.1L350.1 1721L351.4 1720L353.1 1715.9L354.8 1720.1L355.9 1721.3L368.4 1721.5L370.1 1721.1L370.9 1720.3L371.8 1715M373.1 1685.8L373.5 1688.1M374.6 1714L375.2 1719.1L376.5 1720.4L381.5 1721.1L389.2 1720.6L390.1 1719.7L391.8 1715.6L393.5 1719.7L394.4 1720.7L403.8 1722L405.7 1721.6L407.9 1719.1L409.8 1721L410.9 1721.3L421.4 1720.2L427.7 1721.2L431.9 1721.3L438.8 1720.8L444.2 1719.8L448.9 1719.9L450 1718.7L450.6 1713M451.9 1676.8L452.1 1676.3M453.6 1715.6L454.1 1718.9L454.9 1720.4L457.9 1721.1L461.4 1720.2L462.2 1717.1L463.5 1704.3L465 1718L465.5 1719.5L466.3 1720.2L478.6 1721.6L485.6 1720.5L492.5 1720.6L493.6 1720L494 1719.1L494.7 1713.6M495.7 1689.4L496 1687.5L496.2 1688.7M497.2 1713.2L497.9 1719.4L498.5 1720.7L499.6 1721.1L510.1 1721.1L511 1719.2L511.4 1715.3M512.5 1693.6L512.7 1692L512.9 1693M514 1714.5L514.4 1718.8L515.3 1720.9L517.9 1721.1L523.7 1720.6L529.7 1721.8L532.9 1721L535.1 1719.9L535.7 1718.1L536.1 1713.5M537.6 1651.3L537.8 1650.6M539.6 1716.4L540.2 1720.1L541.1 1721.1L542.4 1721.5L551.2 1721.9L564.9 1720.9L566 1720.6L566.6 1719.8L567.5 1712.6M568.3 1692.8L568.8 1689.4L569 1691.9M570.1 1714.9L570.7 1719.5L572 1720.5L579.5 1721.5L582.3 1721.2L584.2 1720L586.2 1716.3L588.3 1720.2L590 1721.2L592 1721.2L596.9 1720.2L605.9 1721.2L611.9 1720.8L613.2 1720.3L613.9 1718.2L614.3 1713.6M615.2 1696.2L615.6 1693.2L615.8 1695.4M616.7 1712.8L617.5 1719.8L618.2 1720.6L619.5 1720.8L636 1721.1L641.8 1720.8L643.1 1719.7L643.7 1715.2M645 1686.9L645.5 1689.3M646.5 1714.6L647 1718.7L647.6 1720.5L655.8 1722.1L666.7 1721.2L675.7 1721.9L685.2 1721.7L694.2 1720.5L703.5 1721.6L704.3 1721.2L705 1720.2L706.9 1713.9L708.6 1719.9L709.9 1721.4L715.9 1722.1L723.6 1720.7L728.8 1721.1L731.2 1719.2L733.1 1721.3L734.4 1721.6L746.6 1720.2L747.7 1718.1L749.4 1710L751.4 1718.5L752 1719.8L753.1 1720.1L754.1 1718.2L755.9 1710.2L757.8 1719.3L758.4 1720.7L759.3 1721.1L766.4 1720.5L772.2 1720.8L777.3 1721.7L780.8 1721.4L782.1 1720.9L782.9 1719.9L784.9 1714.6L786.8 1719.5L787.9 1720.4L789.4 1719.9L791.3 1715.5L793.2 1720.2L794.7 1721.2L798.8 1721.4L810.2 1720.3L819.4 1721.4L820.7 1721.1L821.6 1719.6L823.5 1710.4L825.7 1719.9" stroke-width="13.2"/><path d="M279.5 1459.6h0M279.2 1477.3h0M279.4 1489.4h0M279 1520.3h0M278.9 1528.1h0M278.9 1554.6h0M279.2 1570h0M279.5 1594.3h0M279.4 1614.2h0M279.1 1635.2h0M279.2 1659.5h0M279.2 1677.2h0M292.2 1448.5h0M292.4 1454.1h0M292.7 1468.4h0M292.2 1485h0M292 1510.4h0M292.1 1519.2h0M292.1 1566.7h0M292.2 1576.7h0M292.2 1597.6h0M292.4 1621.9h0M292.7 1634.1h0M292.5 1654h0M292.5 1667.2h0M292.1 1687.1h0M126.5 1710.9h0M126.7 1705.7h0M126.9 1698.5h0M127.1 1689.9h0M127.4 1680.7h0M127.6 1672.5h0M128.2 1671h0M128.4 1678.7h0M128.6 1687.9h0M128.9 1696.8h0M129.1 1704.3h0M129.3 1710.1h0M276.6 1708.3h0M276.9 1703h0M277.1 1694.5h0M277.3 1681.6h0M280.9 1688.8h0M281.2 1699.4h0M281.4 1706.2h0M290 1707.6h0M290.2 1702.1h0M290.4 1693.2h0M294.5 1698.3h0M294.7 1705.4h0M316 1709.5h0M316.2 1703.9h0M316.4 1697.2h0M316.6 1690.1h0M316.8 1683.7h0M317.5 1682.5h0M317.7 1688.4h0M317.9 1695.5h0M318.1 1702.4h0M318.3 1708.3h0M372 1711.5h0M372.2 1706.7h0M372.4 1700.9h0M372.7 1694.7h0M372.9 1689.2h0M373.7 1693.2h0M374 1699.3h0M374.2 1705.2h0M374.4 1710.2h0M450.8 1708.6h0M451.1 1702.7h0M451.3 1695.5h0M451.5 1687.9h0M451.7 1681.1h0M452.4 1679.9h0M452.6 1686.2h0M452.8 1693.9h0M453 1701.3h0M453.2 1707.6h0M453.4 1712.4h0M494.9 1709.8h0M495.1 1704.8h0M495.3 1699.2h0M495.5 1693.6h0M496.4 1692.6h0M496.6 1698h0M496.8 1703.8h0M497 1709h0M511.6 1711.8h0M511.9 1707.4h0M512.1 1702.4h0M512.3 1697.5h0M513.1 1696.4h0M513.4 1701.2h0M513.6 1706.2h0M513.8 1710.8h0M536.3 1708.9h0M536.6 1701.9h0M536.8 1692.5h0M537 1681.1h0M537.2 1668.9h0M537.4 1658.1h0M538.1 1656.2h0M538.3 1666.4h0M538.5 1678.5h0M538.7 1690.3h0M538.9 1700.3h0M539.1 1707.9h0M539.3 1713.1h0M567.7 1708.3h0M567.9 1703.2h0M568.1 1697.7h0M569.2 1696.4h0M569.4 1701.8h0M569.6 1707.1h0M569.8 1711.5h0M614.5 1709.9h0M614.7 1705.3h0M615 1700.5h0M616 1699.4h0M616.2 1704.2h0M616.5 1708.8h0M644 1711.8h0M644.2 1707.2h0M644.4 1701.6h0M644.6 1695.6h0M644.8 1690.3h0M645.7 1694.3h0M645.9 1700.2h0M646.1 1706h0M646.3 1710.9h0" stroke-width="13.2"/></g>
<path d="M73.9 1721.8L118.6 1721.7L123.1 1721.5L125.2 1720.8L126.2 1719.4L126.7 1715.9L127.9 1685.8L129.2 1717.3L130 1720.2L130.8 1720.9L131.9 1721.3L144 1721.8L201.4 1721.6L202.7 1721.2L203.3 1720.3L204.5 1712.3L205.7 1720.4L206.4 1721.3L208 1721.6L244.1 1721.7L264.9 1721.4L269 1721.1L271.6 1720.5L273.5 1719.6L274.8 1718.2L276.1 1714.7L277 1708.5L277.8 1684.3L279.2 1400.8L280.1 1630.3L280.6 1689.6L281 1703L281.7 1711.5L282.8 1716.4L283.6 1717.9L284.6 1718.8L286 1719.2L287.4 1718.9L288.4 1718L289.2 1716.4L290.2 1711.2L290.8 1701.9L291.4 1658L292.4 1487.7L293.3 1651.9L293.8 1699.1L294.2 1709L295 1715.1L296.3 1718.5L297.2 1719.5L298.4 1720.3L302.9 1721.2L310.9 1721.4L313.8 1720.8L314.6 1720.2L315.2 1719.4L315.8 1716.7L316.2 1710.8L317.1 1675.8L318.5 1716.4L319.4 1719.9L320.3 1720.8L321.7 1721.2L328.6 1721.7L350.6 1721.7L352 1721.4L353.1 1719.9L354.2 1721.4L355.4 1721.7L366.9 1721.6L370.5 1720.9L371.6 1719.6L372.1 1716.3L373.2 1691.3L374.4 1717.2L375 1719.9L376.3 1721.1L380.2 1721.6L389.9 1721.6L390.8 1721.1L391.8 1719L393 1721.3L394.9 1721.7L440 1721.7L445.7 1721.6L448.3 1721.2L449.4 1720.6L450.1 1719.8L450.8 1716.3L452.1 1681.5L453.3 1715.7L453.9 1719.5L454.4 1720.3L455.2 1721L459.1 1721.5L461.1 1721.4L462 1721L462.6 1719.2L463.5 1712.4L464.6 1719.8L465.1 1720.9L465.8 1721.4L470.2 1721.7L487.2 1721.7L491.6 1721.5L493.5 1721L494.4 1719.8L494.9 1716.9L496 1695.9L497.1 1716.9L497.6 1719.7L498.4 1720.9L500.8 1721.5L506.6 1721.6L509.6 1721.3L510.9 1720.5L511.7 1716.7L512.7 1701.2L513.8 1717.1L514.2 1719.6L514.7 1720.7L516.2 1721.4L519.3 1721.6L528.8 1721.6L533.1 1721.2L534.6 1720.7L535.5 1719.7L536.1 1718L536.4 1715.3L537.8 1665.6L538.6 1704.3L539.2 1715.8L539.5 1718.2L540.1 1719.8L541.1 1720.8L542.6 1721.3L548.1 1721.7L561.4 1721.7L564.9 1721.4L566.6 1720.7L567.2 1719.5L567.6 1716.4L568.7 1696.6L569.9 1718L570.5 1720.3L571.8 1721.3L577.2 1721.7L602 1721.8L610.2 1721.6L613 1721.1L613.9 1720.1L614.4 1717.7L615.5 1698.9L616.6 1716.9L617 1719.7L617.6 1720.8L619.3 1721.5L623 1721.7L637.1 1721.7L641.7 1721.3L643.2 1720.4L643.9 1718.1L645.2 1695.1L646.5 1718.4L647.2 1720.6L649.3 1721.5L663.6 1721.8L704 1721.6L705.1 1721.2L705.6 1720.4L706.8 1713.3L708.1 1720.6L708.8 1721.4L710.4 1721.7L739.5 1721.8L747 1721.5L747.9 1721.2L748.3 1720.3L749.4 1714L750.5 1720L750.9 1720.9L751.4 1721.3L753.4 1721.4L754.5 1720.9L755.9 1714L756.9 1719.8L757.7 1721.3L760.3 1721.7L769.9 1721.8L780.3 1721.7L783.1 1721.4L783.9 1720.2L784.9 1715.5L786 1720.5L786.4 1721.2L787.1 1721.5L789.1 1721.5L790 1721L791.3 1716L792.4 1720.6L792.8 1721.3L793.6 1721.6L804 1721.8L820.8 1721.6L821.9 1721.3L822.4 1720.5L823.6 1714L824.6 1720.2L825.1 1721.1L825.7 1721.5" stroke="#000" stroke-width="4" fill="none" stroke-linejoin="round" clip-path="url(#ce)"/>
<path d="M128.1 1742.6V1764.8M204.2 1742.6V1764.8M279 1742.6V1764.8M292.1 1742.6V1764.8M316.7 1742.6V1764.8M337.4 1742.6V1764.8M354.6 1742.6V1764.8M373.5 1742.6V1764.8M391.8 1742.6V1764.8M406.4 1742.6V1764.8M442.3 1742.6V1764.8M451.5 1742.6V1764.8M463.2 1742.6V1764.8M495.8 1742.6V1764.8M512.8 1742.6V1764.8M538 1742.6V1764.8M568.5 1742.6V1764.8M585.9 1742.6V1764.8M605.2 1742.6V1764.8M615.1 1742.6V1764.8M624.3 1742.6V1764.8M651.6 1742.6V1764.8M671.4 1742.6V1764.8M679.5 1742.6V1764.8M700.7 1742.6V1764.8M706.6 1742.6V1764.8M713.4 1742.6V1764.8M730.2 1742.6V1764.8M735.4 1742.6V1764.8M756.3 1742.6V1764.8M782.7 1742.6V1764.8M789 1742.6V1764.8M807.7 1742.6V1764.8M821.6 1742.6V1764.8" stroke="#00f" stroke-width="2.6" stroke-linecap="round" fill="none"/>
<path d="M528.1 1743V1764.4M643.4 1743V1764.4M722.2 1743V1764.4M747.6 1743V1764.4" stroke="#00f" stroke-width="3.8" stroke-linecap="round" fill="none"/>
<path d="M73.9 1837.1L78.6 1836.6L89.5 1837.1L93.4 1836.4L96.3 1837L99 1836.8L102.3 1837.2L107 1837.1L109.7 1836.6L112.7 1837L120.8 1836.9L124.7 1836L125.5 1835.2L125.9 1832.8L127.1 1814.2L128.6 1835.5L129.3 1836.7L132 1837.3L143.6 1836.6L147.6 1837.3L163.5 1836.6L177.6 1837.1L181 1836.4L186.5 1837L192.5 1837L201.1 1836.3L202.8 1836.7L203.5 1837.3L204.9 1842.2L206.4 1837.8L210.8 1836.8L215.8 1837.1L219.9 1836.6L225.9 1837.4L232.7 1836.6L237.8 1837.2L241.2 1836.7L244.7 1837.5L250.4 1836.8L275.2 1837.3L276.1 1837L276.6 1835.7L277.5 1824.3L278 1833.9L278.9 1899.1L279.9 1852.1L280.4 1841.1L280.9 1839L281.8 1837.9L283.9 1837.2L289 1836.9L290.5 1835.8L291.3 1834.1L291.9 1825.3L293 1785.9L294.1 1825.5L294.9 1835L295.5 1835.7L296 1835.8L297.3 1833.5L298.4 1835.9L299.2 1836.5L314.8 1837.1L315.5 1838.3L316.6 1843.9L317.7 1838.8L318.4 1837.7L322.2 1837.1L328.4 1837.6L334.9 1836.6L337.8 1836.9L341 1836.5L346.4 1837.1L350.6 1836.2L356.1 1837L361 1836.8L361.7 1836.2L362.8 1833.2L364.4 1836.9L366.6 1837.3L369.1 1837.2L371.2 1836.8L371.8 1836.3L373.1 1831.4L374.4 1837.7L375.3 1836.9L376.1 1836.7L379.2 1837.2L386.5 1836.9L389.7 1837.4L396.1 1836.6L399.5 1837.5L403.3 1836.6L408.6 1837.5L411.9 1836.7L417.3 1837.2L420.9 1836.9L428.6 1837.4L433.7 1836.9L436.8 1837.3L439.3 1836.7L445.3 1836.2L448.7 1837L449.6 1836.7L450.1 1835.7L451.3 1828.4L452.6 1837.8L453.8 1836.9L457.5 1837.3L461.5 1836.6L462 1835.4L463.1 1829.7L464.2 1835.6L465.1 1836.9L468.1 1837.3L472 1836.6L480.2 1837.7L483.3 1837.4L485.8 1837.6L489 1836.9L492.9 1837L493.8 1836.6L494.4 1835.8L495.7 1829L496.7 1834.9L497.5 1836.3L500.8 1837L509.7 1836.6L510.3 1836.3L510.7 1835.3L511.9 1827.5L513.1 1835.3L514 1836.8L515.3 1837.1L518 1836.4L520.6 1836.7L522.9 1836.3L525.7 1836.9L528.5 1836.6L531.3 1836.9L534.4 1836.5L535 1835.9L536.4 1823.7L537.7 1840.7L538.5 1837.8L539.2 1837.3L543.8 1837.5L547.2 1837L554.7 1836.9L558.1 1837.3L565.5 1836.9L566.3 1836L567.3 1831.8L568.5 1839.1L569.8 1837.2L574.6 1836.5L582.7 1837.1L585.2 1836.8L591 1837.2L594.4 1836.8L597.6 1837.3L600.7 1836.9L608.4 1837.1L611.3 1836.4L613.4 1836.5L614.1 1835.6L615.2 1831.1L616.3 1835.7L617.1 1836.7L620.2 1836.9L624 1836.5L628.9 1837.4L634.3 1837.3L637.9 1836.8L641.2 1837L642.5 1836.6L643.1 1835.5L644.4 1826.9L645.5 1834.6L646 1836.2L651.8 1837L655.7 1836.7L659.6 1837.2L663.2 1836.9L667.6 1837.2L679.6 1836.6L686.9 1837.3L691 1836.5L697.1 1837.3L701.5 1836.7L705.1 1837.1L706.5 1839.8L707.9 1837.2L711.9 1836.7L724.2 1837.2L727.1 1836.9L730.3 1837.1L733.6 1836.6L737.3 1837.3L745.6 1836.9L747.1 1837.5L748.4 1840.3L749.4 1838L750.1 1837.4L753.5 1837.5L758.7 1836.5L764.7 1837.4L768.5 1836.7L773.9 1837.4L778.9 1837.3L782.5 1836.8L783.7 1837.3L784.9 1839.6L786 1837.1L786.7 1836.6L795.1 1837.4L797.5 1837L799.9 1837.4L803 1836.4L810.6 1837.1L814.5 1836.6L818.9 1837.5L825.7 1837.2" stroke="#0f0" stroke-width="3.9" fill="none" stroke-linejoin="round" clip-path="url(#ce)"/>
<path d="M73.9 1385.6V1937.3" stroke="#4a4a4a" stroke-width="2.5"/>
<path d="M825.7 1385.6V1937.3" stroke="#333" stroke-width="2.2"/>
<path d="M72.7 1385.6H826.8" stroke="#222" stroke-width="2.2"/>
<path d="M72.7 1937.3H826.8" stroke="#111" stroke-width="2.2"/>
<path d="M73.9 1937.3v10.5M127.6 1937.3v5.2M181.3 1937.3v10.5M235 1937.3v5.2M288.7 1937.3v10.5M342.4 1937.3v5.2M396.1 1937.3v10.5M449.8 1937.3v5.2M503.5 1937.3v10.5M557.2 1937.3v5.2M610.9 1937.3v10.5M664.6 1937.3v5.2M718.3 1937.3v10.5M772 1937.3v5.2M825.7 1937.3v10.5" stroke="#222" stroke-width="2.2" fill="none"/>
<text x="73.9" y="1981.8" font-size="33.5" font-family='"Liberation Serif", "Times New Roman", serif' text-anchor="middle">10</text>
<text x="181.3" y="1981.8" font-size="33.5" font-family='"Liberation Serif", "Times New Roman", serif' text-anchor="middle">20</text>
<text x="288.7" y="1981.8" font-size="33.5" font-family='"Liberation Serif", "Times New Roman", serif' text-anchor="middle">30</text>
<text x="396.1" y="1981.8" font-size="33.5" font-family='"Liberation Serif", "Times New Roman", serif' text-anchor="middle">40</text>
<text x="503.5" y="1981.8" font-size="33.5" font-family='"Liberation Serif", "Times New Roman", serif' text-anchor="middle">50</text>
<text x="610.9" y="1981.8" font-size="33.5" font-family='"Liberation Serif", "Times New Roman", serif' text-anchor="middle">60</text>
<text x="718.3" y="1981.8" font-size="33.5" font-family='"Liberation Serif", "Times New Roman", serif' text-anchor="middle">70</text>
<text x="825.7" y="1981.8" font-size="33.5" font-family='"Liberation Serif", "Times New Roman", serif' text-anchor="middle">80</text>
<text x="1.8" y="1436.8" font-size="48" font-family='"Liberation Serif", "Times New Roman", serif'>(e)</text>
<text x="382.8" y="1479.5" font-size="34.4" font-family='"Liberation Serif", "Times New Roman", serif' textLength="133.6" lengthAdjust="spacingAndGlyphs">Co-doped</text>
<text x="709.9" y="1425.5" font-size="28" font-family='"Liberation Sans", Arial, sans-serif'>calc</text>
<text x="709.9" y="1460.9" font-size="28" font-family='"Liberation Sans", Arial, sans-serif'>obs</text>
<text x="709.7" y="1496.4" font-size="28" font-family='"Liberation Sans", Arial, sans-serif' textLength="102.7" lengthAdjust="spacingAndGlyphs">Co:PbO</text>
<text x="709.9" y="1530.7" font-size="28" font-family='"Liberation Sans", Arial, sans-serif'>diff</text>
<path d="M638.9 1415.7H702" stroke="#000" stroke-width="3.8" stroke-linecap="round"/>
<circle cx="670.1" cy="1451.2" r="6.6" fill="#f00"/>
<path d="M670.1 1474.8V1498.5" stroke="#00f" stroke-width="2.6" stroke-linecap="round"/>
<path d="M638.9 1521.5H702" stroke="#0f0" stroke-width="3.8" stroke-linecap="round"/>
<g transform="translate(35.1 1660.3) rotate(-90)"><text x="0.0" y="0.0" font-size="46.7" font-family='"Liberation Serif", "Times New Roman", serif' text-anchor="middle" textLength="271.0" lengthAdjust="spacingAndGlyphs">Intensity (a.u.)</text></g>
<text x="340.7" y="2025.0" font-size="47" font-family='"Liberation Serif", "Times New Roman", serif' textLength="217.3" lengthAdjust="spacingAndGlyphs">2θ (degree)</text>
</g>
<g id="pf">
<clipPath id="cf"><rect x="945.2" y="1387.5" width="752.5" height="553.0"/></clipPath>
<g fill="none" stroke="#f00" stroke-linecap="round" stroke-linejoin="round" clip-path="url(#cf)"><path d="M945.4 1723.2L951.2 1723L957.2 1724L965.4 1723.2L971.6 1723.3L976.1 1722.8L980.9 1723.4L986 1723L991.4 1723.8L997.6 1723.3L1004.7 1723.8L1011.6 1723L1018.1 1722.8L1024.9 1723.5L1030.7 1722.3L1036.1 1723.4L1037.6 1723.2L1041.7 1722L1043.6 1721.8L1049 1722L1055.3 1723.3L1058.5 1723.6L1060.8 1723.5L1065.6 1722.5L1067.3 1722.5L1071.4 1723.6L1073.3 1723.8L1079.8 1722.9L1089.4 1723L1095.7 1723.7L1101.9 1723.4L1110.5 1723.6L1117.4 1723.2L1128.8 1723.4L1138.9 1722.8L1147.3 1723.3L1156.1 1722.8L1162.1 1723.4L1167.3 1723.3L1172.9 1723.7L1179.1 1723.2L1196.3 1722.6L1201.5 1722.1L1206.8 1722.8L1210.9 1723.1L1217.8 1722.7L1221.9 1723.1L1229.6 1723.3L1235.2 1722.7L1240.8 1722.4L1260.1 1723.3L1269.8 1723.1L1275.4 1723.8L1282.9 1723.9L1290.9 1723.4L1296.5 1722.7L1302.5 1723.5L1314.8 1723.3L1321.2 1723.7L1335.4 1723.4L1341.2 1722.9L1346.1 1723.3L1351.5 1722.9L1357.3 1723.5L1364.6 1723.2L1370.4 1722.5L1382.5 1723.6L1388.3 1722.9L1392.6 1722.7L1398.6 1723L1403.3 1722.7L1408.5 1723.4L1414.3 1722.6L1418.6 1722.9L1422.9 1722.8L1427.6 1723.4L1434.9 1722.6L1438.4 1722.8L1444 1723.7L1449.8 1724.1L1452.8 1724L1458.8 1722.7L1463.8 1722.7L1468.1 1722.3L1477.5 1723.1L1482.9 1722.9L1486.8 1723L1492.3 1722.6L1501.6 1723.4L1507.4 1723L1511.9 1723.6L1517.9 1722.6L1524.6 1722.9L1531 1722.2L1535.8 1722.7L1544.2 1723L1549.8 1722.9L1556.2 1722.2L1563.5 1723.2L1572.1 1723.3L1578.3 1722.5L1583.3 1723.2L1587.6 1723.4L1595.3 1722.8L1601.1 1723.3L1605.9 1723.4L1619 1722.4L1621.1 1722.6L1625.4 1723.6L1627.2 1723.7L1632.7 1723.2L1636.6 1723.1L1640.9 1722.5L1646.1 1723L1649.7 1723L1653.6 1723.3L1664.3 1723L1672.7 1723.7L1679.2 1723.3L1686.5 1723.3L1692.7 1722.6L1697.7 1722.9" stroke-width="15.2"/><path d="M945.4 1723.2L951.2 1723L957 1724L965.4 1723.2L971.6 1723.3L976.1 1722.8L980.9 1723.4L986 1722.9L990.3 1723.7L992.9 1723.6L997.4 1722.2L998.1 1720L998.5 1714.8M999.6 1686.4L999.8 1684.1L1000 1685.5M1001.3 1717.5L1002.1 1722.5L1003 1723.2L1004.9 1723.6L1018.3 1722.8L1024.9 1723.5L1030.7 1722.2L1036.3 1723.4L1043.6 1721.8L1048.8 1721.9L1058.7 1723.6L1066.9 1722.4L1073.3 1723.7L1076.3 1722.4L1078.3 1722.9L1089.2 1722.9L1095 1723.7L1110.1 1723.6L1117 1723.2L1129.2 1723.3L1145.8 1722.3L1147.3 1721.7L1148.1 1720.6L1149 1715M1153.3 1712.8L1154.2 1719.7L1155 1720.8L1156.7 1721.5L1159.3 1721.5L1161 1720.5L1162.1 1717.9L1162.5 1714.5M1166.4 1712.7L1167.3 1719.1L1168.1 1720.8L1169.4 1722L1173.3 1723.2L1183.2 1723L1186.2 1722.6L1187 1721.7L1188.1 1712M1188.3 1708.6L1189 1703.5L1189.4 1707.7M1189.8 1714.1L1190.7 1721.2L1191.1 1722L1192 1722.4L1196.1 1722.5L1201.9 1722L1208.5 1722.9L1213.9 1722.9L1218.2 1722.2L1220.4 1719.2L1222.3 1722.4L1223.6 1723L1230 1723.3L1241.7 1722.1L1242.5 1721.8L1243.2 1719.8L1244.7 1707L1246 1719.7L1247 1722.4L1259.9 1723.2L1261 1722.6L1262.9 1719.6L1264.7 1722.4L1265.7 1723L1275.6 1723.8L1278.6 1723.3L1282.9 1723.9L1296.5 1722.6L1302.7 1723.5L1320.3 1723.4L1321.4 1722.1L1322.3 1714.3M1322.7 1707.8L1323.1 1704.1L1323.8 1710.1M1324 1713.4L1324.9 1721.7L1325.9 1723.3L1329.2 1723.4L1332.4 1722.8L1333 1721.4L1333.7 1715.7M1334.3 1704.4L1334.8 1700L1335.2 1703.5M1335.8 1714.8L1336.5 1721.1L1337.1 1722.6L1345.7 1723.3L1351.3 1722.9L1357.3 1723.5L1365.1 1722.7L1365.9 1720.6L1367.4 1708.6L1368.7 1719.8L1369.2 1721.4L1370 1722.2L1376.9 1723L1381.2 1723L1382.3 1720.7L1384 1711.5L1385.9 1721L1387.2 1722.7L1406.8 1722.6L1407.6 1721.7L1408.3 1717.1M1409.6 1679.9L1409.8 1677.2L1410 1678.7M1411.3 1715.8L1411.9 1721L1413.2 1722.1L1418.2 1722.8L1422.9 1722.7L1427.4 1723.3L1438.2 1722.4L1439 1721.5L1439.5 1719.6L1440.7 1707.8L1442.5 1722L1443.3 1723.2L1446.6 1723.9L1450.4 1724.1L1453.9 1723.7L1455.8 1723.1L1457.9 1721.3L1460.1 1722.4L1462.2 1722.6L1468.5 1722.3L1477.9 1723.1L1485 1722.5L1485.7 1721.7L1486.1 1719.8L1487.4 1708.3L1488.9 1720.6L1489.3 1721.9L1490 1722.4L1501.4 1723.3L1507 1722.9L1512.8 1723.2L1514.1 1722.6L1514.7 1721.5L1515.4 1716.3M1516.6 1684.2L1516.9 1683.7L1517.1 1686.6M1518.1 1714.9L1518.6 1719.6L1519.2 1721.6L1520.7 1722.3L1524 1722.8L1531 1722.2L1547.6 1723L1556 1722.2L1563.7 1723.2L1573.4 1723.2L1575.3 1722.7L1576.2 1722L1578.3 1716.4L1580.9 1722.4L1582.6 1723L1585.9 1723.4L1595.3 1722.8L1600.7 1723.2L1603.1 1722.9L1606.5 1723.4L1616.8 1722.4L1618.3 1721.5L1620.3 1717L1622.9 1722.5L1623.9 1722.8L1624.8 1722.4L1626.7 1718.2L1628.7 1722.6L1629.9 1723.3L1640.9 1722.5L1652.7 1723.1L1654 1722L1655.7 1717.8L1657.7 1722.2L1659 1723L1673.2 1723.7L1686.5 1723.3L1692.1 1722.5L1693.6 1721.7L1695.5 1717.3L1697.7 1722.2" stroke-width="13.2"/><path d="M1150.8 1602h0M1150.9 1617.5h0M1150.8 1624.2h0M1150.9 1636.3h0M1151.2 1648.4h0M1151.4 1660.6h0M1151.3 1676h0M1151.5 1689.3h0M1164.5 1408.8h0M1164.4 1429.8h0M1164.4 1475h0M1165 1509.3h0M1164.3 1545.7h0M1164.5 1556.8h0M1164.4 1595.4h0M1164.8 1607.6h0M1164.2 1639.6h0M1164.6 1647.3h0M1164.7 1673.9h0M998.7 1710.3h0M998.9 1704.5h0M999.1 1697.9h0M999.4 1691.4h0M1000.2 1689.9h0M1000.4 1696.2h0M1000.6 1702.9h0M1000.9 1709h0M1001.1 1713.9h0M1149.2 1711.1h0M1149.4 1705.1h0M1149.6 1696.5h0M1152.9 1700.8h0M1153.1 1707.9h0M1162.8 1710.3h0M1163 1701.8h0M1163.2 1685.8h0M1166 1694.9h0M1166.2 1706.7h0M1189.6 1710.9h0M1322.5 1711h0M1333.9 1712.2h0M1334.1 1708.3h0M1335.4 1707.2h0M1335.6 1711.2h0M1408.5 1713.4h0M1408.7 1708.1h0M1408.9 1701.3h0M1409.1 1693.5h0M1409.4 1685.9h0M1410.2 1683.9h0M1410.4 1691.2h0M1410.6 1699h0M1410.9 1706.1h0M1411.1 1711.8h0M1515.6 1712.4h0M1515.8 1707.2h0M1516 1700.9h0M1516.2 1694.1h0M1516.4 1688.1h0M1517.3 1692.1h0M1517.5 1698.8h0M1517.7 1705.2h0M1517.9 1710.7h0" stroke-width="13.2"/></g>
<path d="M945.2 1722.6L990.4 1722.5L995 1722.3L997.1 1721.6L998.1 1719.9L998.6 1715.9L999.8 1683.6L1001.1 1717.5L1001.8 1720.8L1002.6 1721.6L1003.8 1722.1L1007.5 1722.5L1017.1 1722.6L1130.1 1722.5L1142.3 1722.1L1145.1 1721.6L1146.8 1720.7L1148.2 1718.8L1149 1715.6L1149.8 1702.5L1151.2 1557.4L1152.1 1677.6L1152.8 1710.2L1153.5 1716.3L1154.8 1719.5L1155.9 1720.4L1157.4 1720.8L1159 1720.5L1160.3 1719.6L1161.6 1717.2L1162.4 1712.8L1163.3 1695.2L1164.6 1488.1L1165.5 1655.8L1166 1699.2L1166.5 1709.6L1167.3 1715.9L1168.5 1719.3L1169.4 1720.4L1170.6 1721.2L1174.1 1722L1180.5 1722.3L1185.1 1722.1L1186.9 1721.4L1187.5 1720.1L1187.9 1717.2L1188.9 1700.1L1190.3 1719.9L1191.1 1721.6L1193.4 1722.3L1209.3 1722.6L1241.9 1722.4L1242.9 1722.2L1243.4 1721.6L1244.6 1716.3L1245.8 1721.6L1246.4 1722.2L1247.7 1722.5L1261 1722.5L1261.9 1722.2L1262.8 1721L1264 1722.3L1265.8 1722.6L1310.7 1722.6L1319.4 1722.3L1321.2 1721.7L1321.9 1720.3L1323.2 1705L1324.4 1719.8L1325 1721.5L1326.3 1722.2L1331.1 1722.4L1332.5 1722.2L1333.2 1721.7L1333.8 1719.6L1334.8 1711.8L1336 1720.9L1336.5 1721.9L1337.8 1722.3L1365.1 1722.5L1366.3 1722.1L1367.3 1720.1L1368.5 1722.1L1369.9 1722.5L1397.3 1722.5L1405.2 1722.2L1406.6 1721.8L1407.5 1721.1L1408.1 1720L1408.4 1718.1L1409.8 1682.3L1411.2 1718.1L1411.5 1720L1412.1 1721.2L1413.1 1721.9L1414.7 1722.2L1425.3 1722.6L1484.1 1722.6L1486.2 1722.4L1487.4 1721L1488.5 1722.3L1489.8 1722.5L1508.1 1722.5L1513.4 1722.1L1514.9 1721.1L1515.5 1718.8L1516.8 1694.6L1518.1 1719.1L1518.9 1721.4L1520.9 1722.3L1531.1 1722.6L1575.5 1722.5L1576.7 1722.3L1577.2 1721.8L1578.4 1718L1579.7 1722L1580.4 1722.4L1582 1722.5L1617.9 1722.5L1619.2 1721.8L1620.3 1718.5L1621.5 1722L1622.1 1722.4L1623.4 1722.5L1692.4 1722.6L1694.3 1722.5L1695.5 1722L1697.7 1722.6" stroke="#000" stroke-width="4" fill="none" stroke-linejoin="round" clip-path="url(#cf)"/>
<path d="M999.9 1743.7V1766.4M1076 1743.7V1766.4M1151 1743.7V1766.4M1164.1 1743.7V1766.4M1188.7 1743.7V1766.4M1209.3 1743.7V1766.4M1226.6 1743.7V1766.4M1245.6 1743.7V1766.4M1263.8 1743.7V1766.4M1278.5 1743.7V1766.4M1314.4 1743.7V1766.4M1323.6 1743.7V1766.4M1335.3 1743.7V1766.4M1367.9 1743.7V1766.4M1385 1743.7V1766.4M1410.1 1743.7V1766.4M1440.7 1743.7V1766.4M1458.1 1743.7V1766.4M1477.4 1743.7V1766.4M1487.3 1743.7V1766.4M1496.6 1743.7V1766.4M1523.9 1743.7V1766.4M1543.7 1743.7V1766.4M1551.8 1743.7V1766.4M1573 1743.7V1766.4M1578.9 1743.7V1766.4M1585.7 1743.7V1766.4M1602.6 1743.7V1766.4M1607.7 1743.7V1766.4M1628.7 1743.7V1766.4M1655.1 1743.7V1766.4M1661.4 1743.7V1766.4M1680.1 1743.7V1766.4M1694 1743.7V1766.4" stroke="#00f" stroke-width="2.6" stroke-linecap="round" fill="none"/>
<path d="M1400.2 1744.1V1766M1515.7 1744.1V1766M1594.5 1744.1V1766M1620 1744.1V1766" stroke="#00f" stroke-width="3.8" stroke-linecap="round" fill="none"/>
<path d="M945.2 1872.4L948.1 1872.6L953.2 1872.2L955.9 1872.5L962.6 1872.2L965.9 1873L968.5 1872.6L971.1 1872.8L973.9 1872.1L977.2 1872.6L982.8 1872.3L986.8 1872.9L991.2 1872.2L995.4 1872.8L997.1 1872.4L997.7 1871.8L998.9 1865.9L1000.1 1871.8L1000.6 1872.6L1001.3 1872.9L1011.2 1872.1L1012.9 1870.1L1014.6 1872L1017.7 1872.6L1022.3 1872.7L1026.9 1872.3L1044.2 1872.3L1048.8 1873L1051.6 1872.4L1054.8 1872.8L1061.1 1871.9L1065.2 1872.4L1070.4 1872.2L1074.6 1872.8L1076.3 1871.4L1077.9 1872.5L1081.2 1872.1L1088.6 1872.8L1091.8 1872.3L1099 1872.5L1104.3 1871.9L1107.4 1872.6L1117.4 1872.7L1120.5 1872.3L1126 1872.4L1128.7 1872.8L1138.9 1871.9L1142.4 1873L1147.7 1873.2L1148.3 1873L1149 1871.8L1149.6 1879L1150.5 1922.9L1151.6 1883.8L1152.4 1874.2L1152.9 1873.1L1154 1872.5L1155.5 1872.3L1158.4 1872.8L1162.1 1871.2L1163 1870.2L1163.4 1868.2L1164.1 1853.4L1165.1 1786.6L1166.2 1853.2L1167.1 1869.3L1168.2 1871.2L1171.5 1872.4L1176.9 1872.8L1185.4 1872.7L1187.4 1873.1L1188.1 1874.6L1189.2 1880.6L1190.4 1873.8L1190.8 1872.8L1191.5 1872.5L1194.1 1872.3L1197.9 1873.1L1201.4 1872.4L1204.8 1872.8L1213.2 1872.1L1220.3 1872.8L1221.4 1872.2L1222.5 1869.5L1223.7 1872L1224.6 1872.4L1227.9 1872.3L1234.3 1873L1238.8 1872.6L1242.4 1872.7L1243.3 1872.5L1243.8 1871.7L1245.1 1864.8L1246.3 1871.4L1246.7 1872.2L1247.5 1872.5L1256.5 1872.9L1261.5 1872.1L1265.2 1872.8L1273.1 1872.8L1277.9 1871.8L1280.8 1872.1L1283.8 1873.1L1287.5 1872.2L1297.4 1873L1301.6 1872.1L1311.1 1873.1L1318.4 1872.2L1321.8 1872.5L1331.4 1872.4L1332.5 1872L1333.1 1870.9L1334.3 1860.3L1335.6 1870.7L1336.2 1871.8L1337.6 1872.5L1343.6 1872.1L1350.3 1872.9L1356.6 1872.2L1360.3 1872.6L1364.6 1872.3L1365.4 1871.1L1366.6 1863.6L1367.7 1870.5L1368.4 1872.1L1375 1872.4L1381.8 1871.8L1382.6 1870.3L1383.8 1861.3L1385.1 1870.9L1385.6 1872L1386.5 1872.5L1391.4 1872.8L1397.5 1872.3L1404 1872.7L1407.7 1872.2L1408.4 1871.3L1409.4 1867.5L1410.6 1878.3L1411.5 1873.4L1412.3 1872.3L1420.9 1872.7L1423.7 1872.4L1426.5 1872.7L1429.5 1872.4L1432.7 1872.8L1437.1 1872.4L1438.7 1871.9L1439.6 1869.7L1440.8 1857.8L1442 1870.1L1442.4 1871.8L1443.2 1872.4L1453.4 1872.1L1457.1 1872.9L1466.1 1871.9L1470.9 1872.7L1478 1872L1481.1 1872.4L1484.8 1871.7L1485.4 1871.3L1485.8 1869.8L1487 1858.4L1488.4 1871L1489 1872L1491.4 1872.6L1497.6 1872.3L1500.8 1872.8L1504.3 1872.3L1514.1 1872.2L1514.8 1870.5L1515.9 1861.9L1517.2 1875.6L1518.4 1872.8L1522 1872.2L1525.6 1872.8L1530.8 1872.9L1534.7 1872.2L1540.7 1872.6L1543.8 1872.3L1547 1872.7L1555.2 1871.9L1558.3 1872.6L1560.9 1872.5L1564.7 1873L1575.7 1872.8L1576.3 1873.3L1577.3 1875.3L1578.7 1872.6L1581.6 1872.2L1585.3 1872.1L1592 1873L1595.1 1872.2L1598.6 1872.5L1603.7 1871.9L1611.2 1872.5L1619.9 1872.1L1624.6 1872.7L1632.6 1872.2L1639.3 1872.9L1642.9 1872.6L1645.7 1873L1648.7 1872.2L1652 1872.3L1653.6 1868.3L1655 1871.8L1657.6 1872.6L1662.7 1872.6L1666.1 1872L1669.2 1872.2L1670.8 1869.6L1671.9 1871.9L1672.5 1872.4L1677.4 1872.1L1688 1872.8L1694 1872.2L1695.5 1868.4L1696.7 1872L1697.7 1872.5" stroke="#0f0" stroke-width="3.9" fill="none" stroke-linejoin="round" clip-path="url(#cf)"/>
<path d="M945.2 1387.5V1940.5" stroke="#4a4a4a" stroke-width="2.5"/>
<path d="M1697.7 1387.5V1940.5" stroke="#333" stroke-width="2.2"/>
<path d="M944 1387.5H1698.8" stroke="#222" stroke-width="2.2"/>
<path d="M944 1940.5H1698.8" stroke="#111" stroke-width="2.2"/>
<path d="M945.2 1940.5v10.5M999 1940.5v5.2M1052.7 1940.5v10.5M1106.5 1940.5v5.2M1160.2 1940.5v10.5M1214 1940.5v5.2M1267.7 1940.5v10.5M1321.5 1940.5v5.2M1375.2 1940.5v10.5M1429 1940.5v5.2M1482.7 1940.5v10.5M1536.5 1940.5v5.2M1590.2 1940.5v10.5M1644 1940.5v5.2M1697.7 1940.5v10.5" stroke="#222" stroke-width="2.2" fill="none"/>
<text x="945.2" y="1985.9" font-size="33.5" font-family='"Liberation Serif", "Times New Roman", serif' text-anchor="middle">10</text>
<text x="1052.7" y="1985.9" font-size="33.5" font-family='"Liberation Serif", "Times New Roman", serif' text-anchor="middle">20</text>
<text x="1160.2" y="1985.9" font-size="33.5" font-family='"Liberation Serif", "Times New Roman", serif' text-anchor="middle">30</text>
<text x="1267.7" y="1985.9" font-size="33.5" font-family='"Liberation Serif", "Times New Roman", serif' text-anchor="middle">40</text>
<text x="1375.2" y="1985.9" font-size="33.5" font-family='"Liberation Serif", "Times New Roman", serif' text-anchor="middle">50</text>
<text x="1482.7" y="1985.9" font-size="33.5" font-family='"Liberation Serif", "Times New Roman", serif' text-anchor="middle">60</text>
<text x="1590.2" y="1985.9" font-size="33.5" font-family='"Liberation Serif", "Times New Roman", serif' text-anchor="middle">70</text>
<text x="1697.7" y="1985.9" font-size="33.5" font-family='"Liberation Serif", "Times New Roman", serif' text-anchor="middle">80</text>
<text x="871.6" y="1432.9" font-size="48" font-family='"Liberation Serif", "Times New Roman", serif'>(f)</text>
<text x="1279.7" y="1453.4" font-size="34.4" font-family='"Liberation Serif", "Times New Roman", serif' textLength="123.8" lengthAdjust="spacingAndGlyphs">Li-doped</text>
<text x="1593.6" y="1429.8" font-size="28" font-family='"Liberation Sans", Arial, sans-serif'>calc</text>
<text x="1593.6" y="1465.8" font-size="28" font-family='"Liberation Sans", Arial, sans-serif'>obs</text>
<text x="1592.4" y="1500.7" font-size="28" font-family='"Liberation Sans", Arial, sans-serif' textLength="89.6" lengthAdjust="spacingAndGlyphs">Li:PbO</text>
<text x="1593.6" y="1534.9" font-size="28" font-family='"Liberation Sans", Arial, sans-serif'>diff</text>
<path d="M1522 1419.6H1585" stroke="#000" stroke-width="3.8" stroke-linecap="round"/>
<circle cx="1553.8" cy="1456" r="6.6" fill="#f00"/>
<path d="M1553.8 1480V1503" stroke="#00f" stroke-width="2.6" stroke-linecap="round"/>
<path d="M1522 1525.8H1585" stroke="#0f0" stroke-width="3.8" stroke-linecap="round"/>
<g transform="translate(905.9 1664.0) rotate(-90)"><text x="0.0" y="0.0" font-size="46.7" font-family='"Liberation Serif", "Times New Roman", serif' text-anchor="middle" textLength="275.2" lengthAdjust="spacingAndGlyphs">Intensity (a.u.)</text></g>
<text x="1213.0" y="2024.2" font-size="47" font-family='"Liberation Serif", "Times New Roman", serif' textLength="217.2" lengthAdjust="spacingAndGlyphs">2θ (degree)</text>
</g>
</svg>
</body></html>
